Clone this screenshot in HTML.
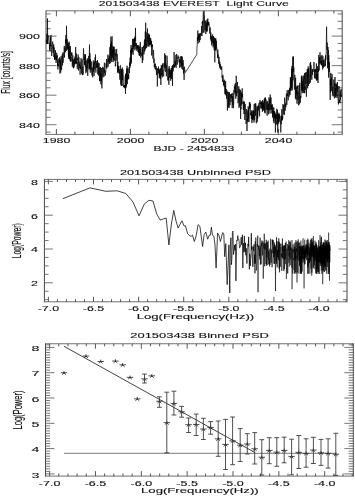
<!DOCTYPE html>
<html><head><meta charset="utf-8"><style>
html,body{margin:0;padding:0;background:#fff;}
body{width:355px;height:496px;overflow:hidden;font-family:"Liberation Sans",sans-serif;}
svg{display:block;filter:blur(0.55px);}
</style></head><body>
<svg width="355" height="496" viewBox="0 0 355 496">
<rect width="355" height="496" fill="#fff"/>
<path d="M46.00,10.30V134.90M342.20,10.30V134.90" stroke="#444" stroke-width="1.0" fill="none"/>
<path d="M46.00,10.80H342.20M46.00,134.40H342.20" stroke="#707070" stroke-width="1.0" fill="none"/>
<line x1="56.40" y1="134.40" x2="56.40" y2="128.90" stroke="#444" stroke-width="0.9"/>
<line x1="56.40" y1="10.80" x2="56.40" y2="16.30" stroke="#444" stroke-width="0.9"/>
<line x1="130.40" y1="134.40" x2="130.40" y2="128.90" stroke="#444" stroke-width="0.9"/>
<line x1="130.40" y1="10.80" x2="130.40" y2="16.30" stroke="#444" stroke-width="0.9"/>
<line x1="204.40" y1="134.40" x2="204.40" y2="128.90" stroke="#444" stroke-width="0.9"/>
<line x1="204.40" y1="10.80" x2="204.40" y2="16.30" stroke="#444" stroke-width="0.9"/>
<line x1="278.40" y1="134.40" x2="278.40" y2="128.90" stroke="#444" stroke-width="0.9"/>
<line x1="278.40" y1="10.80" x2="278.40" y2="16.30" stroke="#444" stroke-width="0.9"/>
<line x1="74.90" y1="134.40" x2="74.90" y2="131.60" stroke="#444" stroke-width="0.9"/>
<line x1="74.90" y1="10.80" x2="74.90" y2="13.60" stroke="#444" stroke-width="0.9"/>
<line x1="93.40" y1="134.40" x2="93.40" y2="131.60" stroke="#444" stroke-width="0.9"/>
<line x1="93.40" y1="10.80" x2="93.40" y2="13.60" stroke="#444" stroke-width="0.9"/>
<line x1="111.90" y1="134.40" x2="111.90" y2="131.60" stroke="#444" stroke-width="0.9"/>
<line x1="111.90" y1="10.80" x2="111.90" y2="13.60" stroke="#444" stroke-width="0.9"/>
<line x1="148.90" y1="134.40" x2="148.90" y2="131.60" stroke="#444" stroke-width="0.9"/>
<line x1="148.90" y1="10.80" x2="148.90" y2="13.60" stroke="#444" stroke-width="0.9"/>
<line x1="167.40" y1="134.40" x2="167.40" y2="131.60" stroke="#444" stroke-width="0.9"/>
<line x1="167.40" y1="10.80" x2="167.40" y2="13.60" stroke="#444" stroke-width="0.9"/>
<line x1="185.90" y1="134.40" x2="185.90" y2="131.60" stroke="#444" stroke-width="0.9"/>
<line x1="185.90" y1="10.80" x2="185.90" y2="13.60" stroke="#444" stroke-width="0.9"/>
<line x1="222.90" y1="134.40" x2="222.90" y2="131.60" stroke="#444" stroke-width="0.9"/>
<line x1="222.90" y1="10.80" x2="222.90" y2="13.60" stroke="#444" stroke-width="0.9"/>
<line x1="241.40" y1="134.40" x2="241.40" y2="131.60" stroke="#444" stroke-width="0.9"/>
<line x1="241.40" y1="10.80" x2="241.40" y2="13.60" stroke="#444" stroke-width="0.9"/>
<line x1="259.90" y1="134.40" x2="259.90" y2="131.60" stroke="#444" stroke-width="0.9"/>
<line x1="259.90" y1="10.80" x2="259.90" y2="13.60" stroke="#444" stroke-width="0.9"/>
<line x1="296.90" y1="134.40" x2="296.90" y2="131.60" stroke="#444" stroke-width="0.9"/>
<line x1="296.90" y1="10.80" x2="296.90" y2="13.60" stroke="#444" stroke-width="0.9"/>
<line x1="315.40" y1="134.40" x2="315.40" y2="131.60" stroke="#444" stroke-width="0.9"/>
<line x1="315.40" y1="10.80" x2="315.40" y2="13.60" stroke="#444" stroke-width="0.9"/>
<line x1="333.90" y1="134.40" x2="333.90" y2="131.60" stroke="#444" stroke-width="0.9"/>
<line x1="333.90" y1="10.80" x2="333.90" y2="13.60" stroke="#444" stroke-width="0.9"/>
<line x1="46.00" y1="124.72" x2="56.50" y2="124.72" stroke="#666" stroke-width="0.9"/>
<line x1="342.20" y1="124.72" x2="331.70" y2="124.72" stroke="#666" stroke-width="0.9"/>
<line x1="46.00" y1="95.18" x2="56.50" y2="95.18" stroke="#666" stroke-width="0.9"/>
<line x1="342.20" y1="95.18" x2="331.70" y2="95.18" stroke="#666" stroke-width="0.9"/>
<line x1="46.00" y1="65.64" x2="56.50" y2="65.64" stroke="#666" stroke-width="0.9"/>
<line x1="342.20" y1="65.64" x2="331.70" y2="65.64" stroke="#666" stroke-width="0.9"/>
<line x1="46.00" y1="36.10" x2="56.50" y2="36.10" stroke="#666" stroke-width="0.9"/>
<line x1="342.20" y1="36.10" x2="331.70" y2="36.10" stroke="#666" stroke-width="0.9"/>
<line x1="46.00" y1="132.11" x2="50.60" y2="132.11" stroke="#666" stroke-width="0.9"/>
<line x1="342.20" y1="132.11" x2="337.60" y2="132.11" stroke="#666" stroke-width="0.9"/>
<line x1="46.00" y1="117.34" x2="50.60" y2="117.34" stroke="#666" stroke-width="0.9"/>
<line x1="342.20" y1="117.34" x2="337.60" y2="117.34" stroke="#666" stroke-width="0.9"/>
<line x1="46.00" y1="109.95" x2="50.60" y2="109.95" stroke="#666" stroke-width="0.9"/>
<line x1="342.20" y1="109.95" x2="337.60" y2="109.95" stroke="#666" stroke-width="0.9"/>
<line x1="46.00" y1="102.56" x2="50.60" y2="102.56" stroke="#666" stroke-width="0.9"/>
<line x1="342.20" y1="102.56" x2="337.60" y2="102.56" stroke="#666" stroke-width="0.9"/>
<line x1="46.00" y1="87.80" x2="50.60" y2="87.80" stroke="#666" stroke-width="0.9"/>
<line x1="342.20" y1="87.80" x2="337.60" y2="87.80" stroke="#666" stroke-width="0.9"/>
<line x1="46.00" y1="80.41" x2="50.60" y2="80.41" stroke="#666" stroke-width="0.9"/>
<line x1="342.20" y1="80.41" x2="337.60" y2="80.41" stroke="#666" stroke-width="0.9"/>
<line x1="46.00" y1="73.03" x2="50.60" y2="73.03" stroke="#666" stroke-width="0.9"/>
<line x1="342.20" y1="73.03" x2="337.60" y2="73.03" stroke="#666" stroke-width="0.9"/>
<line x1="46.00" y1="58.26" x2="50.60" y2="58.26" stroke="#666" stroke-width="0.9"/>
<line x1="342.20" y1="58.26" x2="337.60" y2="58.26" stroke="#666" stroke-width="0.9"/>
<line x1="46.00" y1="50.87" x2="50.60" y2="50.87" stroke="#666" stroke-width="0.9"/>
<line x1="342.20" y1="50.87" x2="337.60" y2="50.87" stroke="#666" stroke-width="0.9"/>
<line x1="46.00" y1="43.48" x2="50.60" y2="43.48" stroke="#666" stroke-width="0.9"/>
<line x1="342.20" y1="43.48" x2="337.60" y2="43.48" stroke="#666" stroke-width="0.9"/>
<line x1="46.00" y1="28.71" x2="50.60" y2="28.71" stroke="#666" stroke-width="0.9"/>
<line x1="342.20" y1="28.71" x2="337.60" y2="28.71" stroke="#666" stroke-width="0.9"/>
<line x1="46.00" y1="21.33" x2="50.60" y2="21.33" stroke="#666" stroke-width="0.9"/>
<line x1="342.20" y1="21.33" x2="337.60" y2="21.33" stroke="#666" stroke-width="0.9"/>
<line x1="46.00" y1="13.95" x2="50.60" y2="13.95" stroke="#666" stroke-width="0.9"/>
<line x1="342.20" y1="13.95" x2="337.60" y2="13.95" stroke="#666" stroke-width="0.9"/>
<text transform="translate(39.80,128.02) scale(1.800,1)" font-family="Liberation Sans, sans-serif" font-size="6.9" text-anchor="end" fill="#111" stroke="#111" stroke-width="0.1">840</text>
<text transform="translate(39.80,98.48) scale(1.800,1)" font-family="Liberation Sans, sans-serif" font-size="6.9" text-anchor="end" fill="#111" stroke="#111" stroke-width="0.1">860</text>
<text transform="translate(39.80,68.94) scale(1.800,1)" font-family="Liberation Sans, sans-serif" font-size="6.9" text-anchor="end" fill="#111" stroke="#111" stroke-width="0.1">880</text>
<text transform="translate(39.80,39.40) scale(1.800,1)" font-family="Liberation Sans, sans-serif" font-size="6.9" text-anchor="end" fill="#111" stroke="#111" stroke-width="0.1">900</text>
<text transform="translate(56.60,143.00) scale(1.800,1)" font-family="Liberation Sans, sans-serif" font-size="6.9" text-anchor="middle" fill="#111" stroke="#111" stroke-width="0.1">1980</text>
<text transform="translate(130.60,143.00) scale(1.800,1)" font-family="Liberation Sans, sans-serif" font-size="6.9" text-anchor="middle" fill="#111" stroke="#111" stroke-width="0.1">2000</text>
<text transform="translate(204.60,143.00) scale(1.800,1)" font-family="Liberation Sans, sans-serif" font-size="6.9" text-anchor="middle" fill="#111" stroke="#111" stroke-width="0.1">2020</text>
<text transform="translate(278.60,143.00) scale(1.800,1)" font-family="Liberation Sans, sans-serif" font-size="6.9" text-anchor="middle" fill="#111" stroke="#111" stroke-width="0.1">2040</text>
<text transform="translate(193.80,151.30) scale(1.756,1)" font-family="Liberation Sans, sans-serif" font-size="6.9" text-anchor="middle" fill="#111" stroke="#111" stroke-width="0.1">BJD - 2454833</text>
<text transform="translate(10.30,72.40) scale(1.950,1) rotate(-90)" font-family="Liberation Sans, sans-serif" font-size="6.61" text-anchor="middle" fill="#111" stroke="#111" stroke-width="0.1">Flux [counts/s]</text>
<text transform="translate(193.75,6.40) scale(1.552,1)" font-family="Liberation Sans, sans-serif" font-size="7.85" text-anchor="middle" fill="#111" stroke="#111" stroke-width="0.1">201503438 EVEREST&#160; Light Curve</text>
<polyline points="46.30,39.63 46.50,43.46 46.70,41.99 46.90,33.82 47.10,34.95 47.30,44.03 47.50,18.50 47.70,43.48 47.90,43.23 48.10,38.23 48.30,35.79 48.50,35.54 48.70,35.57 48.90,39.03 49.10,40.45 49.30,41.73 49.50,49.67 49.70,46.78 49.90,44.35 50.10,51.48 50.30,37.87 50.50,37.08 50.70,46.51 50.90,35.09 51.10,35.05 51.30,46.08 51.50,45.45 51.70,56.02 51.90,49.95 52.10,48.03 52.30,48.19 52.50,44.45 52.70,41.57 52.90,45.31 53.10,52.90 53.30,46.47 53.50,49.29 53.70,44.38 53.90,57.02 54.10,47.35 54.30,49.48 54.50,59.45 54.70,54.17 54.90,59.87 55.10,57.20 55.30,59.20 55.50,50.31 55.70,57.32 55.90,57.39 56.10,62.90 56.30,56.31 56.50,60.14 56.70,52.80 56.90,58.02 57.10,57.49 57.30,55.27 57.50,66.05 57.70,59.65 57.90,69.48 58.10,63.77 58.30,64.40 58.50,65.32 58.70,66.33 58.90,58.46 59.10,63.41 59.30,60.15 59.50,62.86 59.70,57.36 59.90,73.57 60.10,59.26 60.30,68.46 60.50,60.82 60.70,72.67 60.90,67.35 61.10,56.12 61.30,69.11 61.50,69.93 61.70,68.16 61.90,61.65 62.10,54.27 62.30,54.39 62.50,65.28 62.70,58.80 62.90,52.37 63.10,62.79 63.30,58.38 63.50,56.65 63.70,52.97 63.90,52.83 64.10,49.57 64.30,45.95 64.50,57.58 64.70,50.94 64.90,51.37 65.10,47.55 65.30,52.29 65.50,39.32 65.70,43.31 65.90,35.27 66.10,35.05 66.30,50.97 66.50,25.80 66.70,37.77 66.90,41.05 67.10,49.82 67.30,39.39 67.50,45.76 67.70,48.77 67.90,43.15 68.10,47.57 68.30,53.36 68.50,56.98 68.70,42.90 68.90,59.06 69.10,41.64 69.30,57.12 69.50,59.05 69.70,46.62 69.90,52.69 70.10,60.78 70.30,46.14 70.50,58.16 70.70,61.63 70.90,57.02 71.10,61.29 71.30,52.85 71.50,52.56 71.70,55.65 71.90,52.62 72.10,55.75 72.30,66.51 72.50,60.14 72.70,56.24 72.90,55.40 73.10,67.38 73.30,59.04 73.50,68.24 73.70,60.84 73.90,61.23 74.10,67.48 74.30,64.77 74.50,61.44 74.70,58.26 74.90,64.45 75.10,56.48 75.30,63.51 75.50,49.74 75.70,47.00 75.90,56.48 76.10,63.97 76.30,53.53 76.50,63.26 76.70,61.87 76.90,63.31 77.10,62.53 77.30,69.14 77.50,58.24 77.70,59.80 77.90,56.75 78.10,54.46 78.30,57.72 78.50,70.55 78.70,69.61 78.90,56.95 79.10,66.09 79.30,64.12 79.50,66.57 79.70,68.12 79.90,61.68 80.10,74.70 80.30,65.28 80.50,68.66 80.70,69.00 80.90,60.34 81.10,58.15 81.30,65.21 81.50,72.33 81.70,73.54 81.90,71.72 82.10,59.28 82.30,75.12 82.50,72.75 82.70,74.16 82.90,66.75 83.10,74.70 83.30,56.42 83.50,48.40 83.70,55.27 83.90,59.71 84.10,59.29 84.30,57.74 84.50,64.99 84.70,54.15 84.90,64.71 85.10,56.39 85.30,66.84 85.50,54.35 85.70,60.43 85.90,73.15 86.10,65.70 86.30,71.47 86.50,68.85 86.70,68.20 86.90,60.45 87.10,68.05 87.30,58.39 87.50,72.78 87.70,75.86 87.90,74.15 88.10,59.27 88.30,63.30 88.50,61.64 88.70,55.92 88.90,66.19 89.10,69.40 89.30,56.50 89.50,44.60 89.70,68.69 89.90,53.32 90.10,69.40 90.30,72.66 90.50,59.15 90.70,67.86 90.90,70.01 91.10,70.12 91.30,61.42 91.50,71.79 91.70,71.65 91.90,75.41 92.10,75.43 92.30,67.38 92.50,74.74 92.70,77.29 92.90,77.35 93.10,63.55 93.30,60.45 93.50,71.59 93.70,62.80 93.90,68.98 94.10,75.98 94.30,64.55 94.50,61.67 94.70,65.46 94.90,69.30 95.10,57.40 95.30,62.92 95.50,54.50 95.70,68.71 95.90,72.73 96.10,63.34 96.30,63.63 96.50,67.65 96.70,61.05 96.90,62.15 97.10,64.33 97.30,67.50 97.50,60.20 97.70,74.26 97.90,71.14 98.10,66.20 98.30,62.60 98.50,75.52 98.70,64.48 98.90,64.54 99.10,64.50 99.30,63.50 99.50,81.02 99.70,67.59 99.90,68.57 100.10,81.17 100.30,76.66 100.50,67.10 100.70,73.43 100.90,84.30 101.10,73.19 101.30,81.35 101.50,68.08 101.70,82.11 101.90,88.40 102.10,82.58 102.30,78.83 102.50,72.57 102.70,66.81 102.90,74.16 103.10,77.32 103.30,67.68 103.50,68.11 103.70,71.77 103.90,74.62 104.10,76.50 104.30,62.60 104.50,62.82 104.70,73.11 104.90,69.99 105.10,70.97 105.30,75.47 105.50,74.08 105.70,72.00 105.90,70.46 106.10,63.33 106.30,67.33 106.50,59.09 106.70,68.67 106.90,68.27 107.10,67.30 107.30,62.45 107.50,61.10 107.70,61.49 107.90,54.59 108.10,66.92 108.30,61.33 108.50,58.04 108.70,60.03 108.90,62.32 109.10,55.74 109.30,62.93 109.50,63.95 109.70,53.07 109.90,47.09 110.10,58.91 110.30,63.24 110.50,43.89 110.70,55.74 110.90,36.60 111.10,60.53 111.30,42.18 111.50,41.46 111.70,62.08 111.90,42.03 112.10,36.30 112.30,52.84 112.50,50.51 112.70,57.76 112.90,46.22 113.10,62.13 113.30,48.20 113.50,59.98 113.70,46.66 113.90,54.94 114.10,46.85 114.30,52.57 114.50,52.90 114.70,60.69 114.90,56.18 115.10,49.46 115.30,66.38 115.50,64.89 115.70,65.83 115.90,53.25 116.10,56.27 116.30,52.99 116.50,50.90 116.70,48.92 116.90,60.57 117.10,54.06 117.30,56.77 117.50,72.40 117.70,66.18 117.90,61.67 118.10,72.86 118.30,65.75 118.50,71.08 118.70,66.49 118.90,71.27 119.10,73.67 119.30,72.06 119.50,69.50 119.70,77.46 119.90,79.70 120.10,66.12 120.30,65.56 120.50,65.38 120.70,84.50 120.90,84.32 121.10,68.95 121.30,86.07 121.50,69.28 121.70,76.34 121.90,76.51 122.10,85.92 122.30,67.50 122.50,73.80 122.70,80.17 122.90,69.51 123.10,73.46 123.30,78.51 123.50,87.19 123.70,85.12 123.90,86.80 124.10,85.79 124.30,85.07 124.50,88.19 124.70,85.22 124.90,86.62 125.10,78.53 125.30,75.62 125.50,94.00 125.70,73.59 125.90,88.12 126.10,80.63 126.30,74.10 126.50,86.31 126.70,68.39 126.90,75.42 127.10,65.78 127.30,84.20 127.50,75.45 127.70,79.62 127.90,68.78 128.10,78.44 128.30,76.03 128.50,74.45 128.70,79.18 128.90,68.78 129.10,67.31 129.30,71.39 129.50,73.06 129.70,62.38 129.90,67.79 130.10,57.57 130.30,63.29 130.50,66.02 130.70,49.82 130.90,61.85 131.10,45.09 131.30,63.46 131.50,51.23 131.70,48.19 131.90,53.36 132.10,48.06 132.30,52.35 132.50,38.91 132.70,48.50 132.90,48.27 133.10,54.85 133.30,39.07 133.50,46.12 133.70,48.84 133.90,47.00 134.10,38.37 134.30,46.54 134.50,39.26 134.70,37.97 134.90,50.35 135.10,36.38 135.30,40.84 135.50,27.90 135.70,46.07 135.90,43.54 136.10,49.04 136.30,43.17 136.50,46.63 136.70,50.64 136.90,48.76 137.10,48.73 137.30,45.41 137.50,48.06 137.70,45.54 137.90,51.76 138.10,45.55 138.30,47.28 138.50,52.95 138.70,48.37 138.90,45.26 139.10,55.26 139.30,46.78 139.50,56.03 139.70,55.11 139.90,49.01 140.10,54.23 140.30,42.13 140.50,48.92 140.70,57.65 140.90,52.92 141.10,52.82 141.30,55.10 141.50,55.66 141.70,54.19 141.90,51.36 142.10,47.02 142.30,63.00 142.50,48.54 142.70,50.34 142.90,60.28 143.10,47.12 143.30,48.03 143.50,45.75 143.70,48.72 143.90,54.42 144.10,52.69 144.30,42.51 144.50,39.52 144.70,51.43 144.90,42.64 145.10,46.22 145.30,31.53 145.50,49.45 145.70,22.70 145.90,39.57 146.10,32.39 146.30,38.00 146.50,47.94 146.70,47.95 146.90,39.68 147.10,46.60 147.30,39.58 147.50,28.50 147.70,41.76 147.90,34.64 148.10,37.31 148.30,45.07 148.50,46.20 148.70,33.51 148.90,45.35 149.10,46.62 149.30,40.79 149.50,34.75 149.70,44.82 149.90,37.76 150.10,44.45 150.30,40.05 150.50,44.62 150.70,38.11 150.90,42.03 151.10,44.10 151.30,47.21 151.50,40.80 151.70,55.53 151.90,44.75 152.10,46.27 152.30,46.59 152.50,44.44 152.70,51.78 152.90,58.81 153.10,58.51 153.30,50.17 153.50,49.94 153.70,54.03 153.90,62.80 154.10,58.63 154.30,67.19 154.50,63.68 154.70,64.31 154.90,68.02 155.10,68.94 155.30,63.66 155.50,63.66 155.70,67.80 155.90,69.89 156.10,66.16 156.30,71.50 156.50,75.06 156.70,68.34 156.90,69.00 157.10,70.15 157.30,86.50 157.50,82.90 157.70,68.25 157.90,70.22 158.10,69.53 158.30,73.59 158.50,66.57 158.70,72.76 158.90,68.77 159.10,70.49 159.30,78.09 159.50,69.67 159.70,76.01 159.90,73.00 160.10,72.93 160.30,78.89 160.50,68.33 160.70,80.63 160.90,85.00 161.10,75.98 161.30,64.92 161.50,74.87 161.70,73.31 161.90,75.61 162.10,66.14 162.30,77.38 162.50,76.11 162.70,64.18 162.90,67.17 163.10,62.99 163.30,74.45 163.50,75.43 163.70,76.39 163.90,70.18 164.10,70.62 164.30,70.41 164.50,67.88 164.70,53.30 164.90,68.32 165.10,62.53 165.30,66.57 165.50,55.05 165.70,71.98 165.90,71.52 166.10,64.70 166.30,76.22 166.50,73.95 166.70,62.40 166.90,55.70 167.10,56.20 167.30,59.62 167.50,64.49 167.70,69.35 167.90,80.46 168.10,68.75 168.30,80.22 168.50,76.60 168.70,79.09 168.90,84.70 169.10,66.15 169.30,77.51 169.50,69.64 169.70,68.38 169.90,77.89 170.10,76.49 170.30,69.97 170.50,70.96 170.70,80.67 170.90,71.01 171.10,77.25 171.30,68.61 171.50,78.90 171.70,68.03 171.90,74.15 172.10,65.99 172.30,72.78 172.50,86.00 172.70,65.01 172.90,66.67 173.10,71.29 173.30,68.83 173.50,64.12 173.70,67.64 173.90,64.14 174.10,52.00 174.30,59.28 174.50,67.55 174.70,65.16 174.90,66.65 175.10,60.70 175.30,65.82 175.50,65.16 175.70,60.39 175.90,54.90 176.10,67.80 176.30,63.90 176.50,56.32 176.70,54.00 176.90,56.87 177.10,59.54 177.30,64.58 177.50,59.31 177.70,57.44 177.90,57.75 178.10,55.47 178.30,57.49 178.50,58.52 178.70,57.79 178.90,56.86 179.10,62.27 179.30,59.25 179.50,65.66 179.70,67.78 179.90,59.39 180.10,62.96 180.30,61.93 180.50,56.39 180.70,57.02 180.90,67.10 181.10,61.75 181.30,66.40 181.50,56.21 181.70,63.96 181.90,68.42 182.10,69.04 182.30,56.65 182.50,64.93 182.70,63.06 182.90,69.90 183.10,59.85 183.30,63.75 183.50,73.50 183.70,68.79 183.90,69.39 184.10,79.90 184.30,68.76 184.50,66.68 184.70,70.85 184.90,70.21 185.10,71.22 185.30,72.60 196.80,54.50 197.00,45.65 197.20,45.55 197.40,37.25 197.60,40.82 197.80,30.50 198.00,39.69 198.20,43.47 198.40,39.18 198.60,33.79 198.80,39.87 199.00,38.68 199.20,34.65 199.40,40.08 199.60,42.23 199.80,33.05 200.00,37.93 200.20,39.96 200.40,35.30 200.60,33.19 200.80,33.56 201.00,34.88 201.20,35.96 201.40,33.32 201.60,26.01 201.80,35.25 202.00,35.98 202.20,22.00 202.40,23.48 202.60,20.82 202.80,32.32 203.00,32.92 203.20,13.93 203.40,11.40 203.60,16.32 203.80,22.80 204.00,32.56 204.20,15.66 204.40,18.30 204.60,24.88 204.80,25.99 205.00,30.15 205.20,25.06 205.40,20.60 205.60,24.41 205.80,34.03 206.00,30.73 206.20,22.43 206.40,31.50 206.60,24.63 206.80,30.69 207.00,19.66 207.20,31.51 207.40,20.88 207.60,24.85 207.80,18.50 208.00,26.26 208.20,21.86 208.40,22.13 208.60,24.78 208.80,22.27 209.00,25.09 209.20,24.70 209.40,29.95 209.60,29.40 209.80,33.45 210.00,30.09 210.20,27.41 210.40,32.53 210.60,39.48 210.80,32.52 211.00,35.24 211.20,41.18 211.40,36.22 211.60,44.44 211.80,45.55 212.00,36.00 212.20,43.20 212.40,35.78 212.60,34.38 212.80,39.35 213.00,42.15 213.20,47.36 213.40,36.06 213.60,44.86 213.80,41.79 214.00,37.09 214.20,50.14 214.40,46.44 214.60,38.30 214.80,62.30 215.00,38.42 215.20,38.47 215.40,42.03 215.60,50.47 215.80,38.30 216.00,50.07 216.20,46.59 216.40,40.80 216.60,48.07 216.80,47.77 217.00,50.05 217.20,53.05 217.40,53.36 217.60,57.83 217.80,49.65 218.00,57.84 218.20,54.45 218.40,59.54 218.60,61.75 218.80,63.87 219.00,56.86 219.20,59.86 219.40,65.94 219.60,66.77 219.80,61.83 220.00,68.31 220.20,64.04 220.40,64.69 220.60,69.33 220.80,67.42 221.00,68.07 221.20,68.23 221.40,69.68 221.60,66.65 221.80,66.24 222.00,77.35 222.20,76.10 222.40,78.98 222.60,81.87 222.80,74.80 223.00,75.66 223.20,77.09 223.40,78.26 223.60,85.37 223.80,80.85 224.00,80.96 224.20,86.56 224.40,80.47 224.60,79.74 224.80,91.58 225.00,94.16 225.20,85.62 225.40,94.28 225.60,81.17 225.80,90.69 226.00,95.47 226.20,89.00 226.40,91.98 226.60,98.46 226.80,98.80 227.00,90.53 227.20,102.31 227.40,110.60 227.60,107.49 227.80,91.95 228.00,92.96 228.20,91.89 228.40,107.50 228.60,93.56 228.80,100.36 229.00,108.07 229.20,107.68 229.40,92.12 229.60,101.11 229.80,103.02 230.00,105.19 230.20,99.57 230.40,99.24 230.60,93.95 230.80,94.24 231.00,102.14 231.20,94.48 231.40,96.27 231.60,98.13 231.80,93.98 232.00,93.33 232.20,108.10 232.40,100.06 232.60,96.22 232.80,104.95 233.00,92.84 233.20,96.49 233.40,108.15 233.60,106.03 233.80,100.40 234.00,89.81 234.20,92.78 234.40,86.65 234.60,89.04 234.80,84.59 235.00,85.49 235.20,94.58 235.40,83.05 235.60,83.26 235.80,98.72 236.00,85.47 236.20,75.80 236.40,79.86 236.60,96.20 236.80,93.75 237.00,91.12 237.20,92.94 237.40,81.93 237.60,85.73 237.80,93.84 238.00,103.12 238.20,101.33 238.40,98.54 238.60,96.90 238.80,86.36 239.00,107.84 239.20,88.90 239.40,90.09 239.60,103.54 239.80,106.37 240.00,105.67 240.20,97.13 240.40,89.88 240.60,118.90 240.80,106.65 241.00,109.18 241.20,91.77 241.40,105.50 241.60,95.35 241.80,93.52 242.00,97.22 242.20,88.30 242.40,97.10 242.60,94.04 242.80,103.89 243.00,101.44 243.20,108.54 243.40,109.99 243.60,101.79 243.80,102.25 244.00,114.02 244.20,107.85 244.40,101.72 244.60,101.60 244.80,119.94 245.00,113.35 245.20,104.10 245.40,113.61 245.60,114.01 245.80,113.23 246.00,123.59 246.20,124.01 246.40,109.08 246.60,110.17 246.80,115.12 247.00,131.00 247.20,118.88 247.40,120.78 247.60,117.73 247.80,110.53 248.00,122.18 248.20,106.31 248.40,118.95 248.60,108.25 248.80,112.88 249.00,121.98 249.20,112.62 249.40,102.35 249.60,108.85 249.80,102.30 250.00,102.67 250.20,107.41 250.40,103.98 250.60,114.64 250.80,112.64 251.00,115.77 251.20,112.99 251.40,119.03 251.60,110.39 251.80,122.57 252.00,123.06 252.20,114.99 252.40,114.24 252.60,120.20 252.80,110.91 253.00,119.32 253.20,110.34 253.40,118.06 253.60,110.71 253.80,115.85 254.00,122.56 254.20,103.98 254.40,120.21 254.60,114.32 254.80,110.60 255.00,109.81 255.20,103.25 255.40,107.41 255.60,115.78 255.80,103.49 256.00,116.70 256.20,123.13 256.40,123.29 256.60,121.10 256.80,119.19 257.00,106.36 257.20,122.08 257.40,106.60 257.60,118.61 257.80,118.03 258.00,112.76 258.20,110.77 258.40,104.90 258.60,110.32 258.80,106.09 259.00,102.98 259.20,102.83 259.40,114.44 259.60,116.26 259.80,102.45 260.00,100.07 260.20,104.07 260.40,101.71 260.60,102.38 260.80,108.42 261.00,105.59 261.20,105.37 261.40,101.43 261.60,108.58 261.80,102.06 262.00,103.55 262.20,104.33 262.40,111.75 262.60,100.08 262.80,108.20 263.00,101.38 263.20,110.76 263.40,102.88 263.60,104.58 263.80,109.89 264.00,106.88 264.20,98.90 264.40,99.52 264.60,112.54 264.80,97.84 265.00,102.21 265.20,113.29 265.40,97.48 265.60,100.01 265.80,101.37 266.00,99.50 266.20,107.02 266.40,109.78 266.60,105.12 266.80,101.55 267.00,115.66 267.20,115.61 267.40,110.32 267.60,101.22 267.80,108.91 268.00,110.23 268.20,105.52 268.40,114.27 268.60,103.63 268.80,105.93 269.00,97.27 269.20,106.42 269.40,110.27 269.60,109.19 269.80,99.33 270.00,113.62 270.20,94.50 270.40,102.37 270.60,102.27 270.80,109.84 271.00,97.45 271.20,107.24 271.40,109.07 271.60,104.85 271.80,113.37 272.00,105.88 272.20,106.84 272.40,104.35 272.60,117.53 272.80,107.19 273.00,115.10 273.20,110.92 273.40,120.66 273.60,121.44 273.80,107.45 274.00,123.29 274.20,118.06 274.40,111.21 274.60,118.06 274.80,111.67 275.00,118.60 275.20,113.22 275.40,132.50 275.60,114.65 275.80,119.07 276.00,122.43 276.20,124.27 276.40,114.47 276.60,118.36 276.80,108.74 277.00,114.86 277.20,125.19 277.40,110.06 277.60,123.73 277.80,132.50 278.00,113.92 278.20,122.07 278.40,114.68 278.60,123.77 278.80,112.73 279.00,113.78 279.20,121.81 279.40,118.17 279.60,114.30 279.80,118.84 280.00,115.91 280.20,119.22 280.40,121.91 280.60,123.56 280.80,132.50 281.00,118.96 281.20,124.28 281.40,115.90 281.60,120.08 281.80,109.22 282.00,120.71 282.20,115.64 282.40,119.84 282.60,117.59 282.80,118.31 283.00,104.13 283.20,114.47 283.40,104.90 283.60,105.32 283.80,105.68 284.00,109.83 284.20,109.94 284.40,114.87 284.60,97.67 284.80,100.36 285.00,102.86 285.20,110.76 285.40,105.01 285.60,103.57 285.80,107.15 286.00,104.51 286.20,97.61 286.40,93.64 286.60,99.02 286.80,104.82 287.00,99.58 287.20,90.23 287.40,95.49 287.60,93.81 287.80,96.10 288.00,95.37 288.20,100.24 288.40,90.06 288.60,90.55 288.80,93.16 289.00,96.83 289.20,93.40 289.40,89.10 289.60,93.90 289.80,87.83 290.00,95.08 290.20,81.63 290.40,77.07 290.60,90.76 290.80,78.40 291.00,90.71 291.20,84.47 291.40,81.28 291.60,68.84 291.80,88.10 292.00,65.88 292.20,90.31 292.40,85.91 292.60,68.89 292.80,56.70 293.00,80.40 293.20,69.04 293.40,56.40 293.60,71.62 293.80,67.65 294.00,73.33 294.20,80.82 294.40,89.47 294.60,88.71 294.80,74.83 295.00,83.80 295.20,85.27 295.40,98.35 295.60,77.86 295.80,89.06 296.00,99.56 296.20,88.70 296.40,86.71 296.60,94.50 296.80,89.95 297.00,103.63 297.20,85.54 297.40,88.56 297.60,86.33 297.80,99.88 298.00,91.47 298.20,104.22 298.40,104.28 298.60,105.33 298.80,91.06 299.00,84.97 299.20,92.42 299.40,104.42 299.60,99.57 299.80,82.85 300.00,97.20 300.20,101.88 300.40,102.75 300.60,95.74 300.80,98.24 301.00,96.58 301.20,83.79 301.40,76.59 301.60,90.47 301.80,75.56 302.00,80.31 302.20,93.27 302.40,82.23 302.60,81.04 302.80,91.02 303.00,76.51 303.20,92.98 303.40,91.41 303.60,79.53 303.80,79.11 304.00,75.03 304.20,93.09 304.40,77.17 304.60,72.98 304.80,93.18 305.00,86.41 305.20,88.19 305.40,89.72 305.60,72.59 305.80,73.60 306.00,83.90 306.20,72.10 306.40,96.70 306.60,88.79 306.80,85.92 307.00,84.07 307.20,69.26 307.40,73.27 307.60,88.28 307.80,69.30 308.00,78.08 308.20,66.43 308.40,86.02 308.60,68.36 308.80,73.31 309.00,75.98 309.20,79.43 309.40,83.92 309.60,79.01 309.80,69.89 310.00,63.40 310.20,64.00 310.40,82.60 310.60,62.03 310.80,77.64 311.00,65.32 311.20,70.82 311.40,71.83 311.60,73.31 311.80,79.78 312.00,74.06 312.20,69.12 312.40,74.93 312.60,70.79 312.80,70.05 313.00,69.41 313.20,71.83 313.40,68.32 313.60,67.83 313.80,66.39 314.00,62.00 314.20,68.90 314.40,78.17 314.60,78.16 314.80,69.18 315.00,73.78 315.20,78.51 315.40,68.85 315.60,72.05 315.80,69.92 316.00,73.49 316.20,79.53 316.40,63.54 316.60,80.60 316.80,74.45 317.00,77.64 317.20,74.05 317.40,80.14 317.60,66.17 317.80,76.46 318.00,83.00 318.20,68.76 318.40,71.98 318.60,59.08 318.80,54.93 319.00,70.71 319.20,69.77 319.40,65.40 319.60,57.18 319.80,63.43 320.00,52.29 320.20,63.63 320.40,62.05 320.60,62.89 320.80,59.82 321.00,55.90 321.20,65.05 321.40,60.47 321.60,65.47 321.80,59.17 322.00,54.83 322.20,62.81 322.40,64.41 322.60,69.50 322.80,69.15 323.00,56.39 323.20,67.77 323.40,60.30 323.60,66.97 323.80,61.53 324.00,60.00 324.20,62.70 324.40,63.25 324.60,66.62 324.80,65.22 325.00,66.09 325.20,58.29 325.40,65.90 325.60,55.26 325.80,59.83 326.00,53.31 326.20,53.31 326.40,37.67 326.60,26.70 326.80,44.51 327.00,49.92 327.20,42.52 327.40,59.94 327.60,68.29 327.80,53.64 328.00,47.01 328.20,64.42 328.40,50.29 328.60,77.56 328.80,54.98 329.00,65.18 329.20,71.92 329.40,62.10 329.60,71.05 329.80,72.05 330.00,88.71 330.20,100.00 330.40,79.69 330.60,92.68 330.80,73.04 331.00,85.71 331.20,81.40 331.40,77.46 331.60,91.04 331.80,88.69 332.00,73.94 332.20,77.66 332.40,90.04 332.60,94.59 332.80,86.40 333.00,93.04 333.20,96.32 333.40,91.11 333.60,89.35 333.80,79.50 334.00,83.63 334.20,90.38 334.40,98.34 334.60,83.15 334.80,85.88 335.00,76.98 335.20,94.21 335.40,88.29 335.60,97.53 335.80,83.85 336.00,94.88 336.20,95.42 336.40,90.41 336.60,83.73 336.80,89.28 337.00,98.02 337.20,84.34 337.40,82.07 337.60,91.57 337.80,86.07 338.00,100.40 338.20,101.02 338.40,104.41 338.60,101.98 338.80,97.39 339.00,86.14 339.20,102.17 339.40,100.01 339.60,100.68 339.80,99.65 340.00,103.16 340.20,90.44 340.40,99.80 340.60,96.36 340.80,92.43 341.00,92.52 341.20,88.92 341.40,96.96 341.70,94.66" fill="none" stroke="#000" stroke-width="0.7" stroke-linejoin="round"/>
<path d="M44.40,178.90V302.30M347.00,178.90V302.30" stroke="#444" stroke-width="1.0" fill="none"/>
<path d="M44.40,179.40H347.00M44.40,301.80H347.00" stroke="#707070" stroke-width="1.0" fill="none"/>
<line x1="48.40" y1="301.80" x2="48.40" y2="296.80" stroke="#444" stroke-width="0.9"/>
<line x1="48.40" y1="179.40" x2="48.40" y2="184.40" stroke="#444" stroke-width="0.9"/>
<line x1="93.50" y1="301.80" x2="93.50" y2="296.80" stroke="#444" stroke-width="0.9"/>
<line x1="93.50" y1="179.40" x2="93.50" y2="184.40" stroke="#444" stroke-width="0.9"/>
<line x1="138.60" y1="301.80" x2="138.60" y2="296.80" stroke="#444" stroke-width="0.9"/>
<line x1="138.60" y1="179.40" x2="138.60" y2="184.40" stroke="#444" stroke-width="0.9"/>
<line x1="183.70" y1="301.80" x2="183.70" y2="296.80" stroke="#444" stroke-width="0.9"/>
<line x1="183.70" y1="179.40" x2="183.70" y2="184.40" stroke="#444" stroke-width="0.9"/>
<line x1="228.80" y1="301.80" x2="228.80" y2="296.80" stroke="#444" stroke-width="0.9"/>
<line x1="228.80" y1="179.40" x2="228.80" y2="184.40" stroke="#444" stroke-width="0.9"/>
<line x1="273.90" y1="301.80" x2="273.90" y2="296.80" stroke="#444" stroke-width="0.9"/>
<line x1="273.90" y1="179.40" x2="273.90" y2="184.40" stroke="#444" stroke-width="0.9"/>
<line x1="319.00" y1="301.80" x2="319.00" y2="296.80" stroke="#444" stroke-width="0.9"/>
<line x1="319.00" y1="179.40" x2="319.00" y2="184.40" stroke="#444" stroke-width="0.9"/>
<line x1="57.42" y1="301.80" x2="57.42" y2="299.20" stroke="#444" stroke-width="0.9"/>
<line x1="57.42" y1="179.40" x2="57.42" y2="182.00" stroke="#444" stroke-width="0.9"/>
<line x1="66.44" y1="301.80" x2="66.44" y2="299.20" stroke="#444" stroke-width="0.9"/>
<line x1="66.44" y1="179.40" x2="66.44" y2="182.00" stroke="#444" stroke-width="0.9"/>
<line x1="75.46" y1="301.80" x2="75.46" y2="299.20" stroke="#444" stroke-width="0.9"/>
<line x1="75.46" y1="179.40" x2="75.46" y2="182.00" stroke="#444" stroke-width="0.9"/>
<line x1="84.48" y1="301.80" x2="84.48" y2="299.20" stroke="#444" stroke-width="0.9"/>
<line x1="84.48" y1="179.40" x2="84.48" y2="182.00" stroke="#444" stroke-width="0.9"/>
<line x1="102.52" y1="301.80" x2="102.52" y2="299.20" stroke="#444" stroke-width="0.9"/>
<line x1="102.52" y1="179.40" x2="102.52" y2="182.00" stroke="#444" stroke-width="0.9"/>
<line x1="111.54" y1="301.80" x2="111.54" y2="299.20" stroke="#444" stroke-width="0.9"/>
<line x1="111.54" y1="179.40" x2="111.54" y2="182.00" stroke="#444" stroke-width="0.9"/>
<line x1="120.56" y1="301.80" x2="120.56" y2="299.20" stroke="#444" stroke-width="0.9"/>
<line x1="120.56" y1="179.40" x2="120.56" y2="182.00" stroke="#444" stroke-width="0.9"/>
<line x1="129.58" y1="301.80" x2="129.58" y2="299.20" stroke="#444" stroke-width="0.9"/>
<line x1="129.58" y1="179.40" x2="129.58" y2="182.00" stroke="#444" stroke-width="0.9"/>
<line x1="147.62" y1="301.80" x2="147.62" y2="299.20" stroke="#444" stroke-width="0.9"/>
<line x1="147.62" y1="179.40" x2="147.62" y2="182.00" stroke="#444" stroke-width="0.9"/>
<line x1="156.64" y1="301.80" x2="156.64" y2="299.20" stroke="#444" stroke-width="0.9"/>
<line x1="156.64" y1="179.40" x2="156.64" y2="182.00" stroke="#444" stroke-width="0.9"/>
<line x1="165.66" y1="301.80" x2="165.66" y2="299.20" stroke="#444" stroke-width="0.9"/>
<line x1="165.66" y1="179.40" x2="165.66" y2="182.00" stroke="#444" stroke-width="0.9"/>
<line x1="174.68" y1="301.80" x2="174.68" y2="299.20" stroke="#444" stroke-width="0.9"/>
<line x1="174.68" y1="179.40" x2="174.68" y2="182.00" stroke="#444" stroke-width="0.9"/>
<line x1="192.72" y1="301.80" x2="192.72" y2="299.20" stroke="#444" stroke-width="0.9"/>
<line x1="192.72" y1="179.40" x2="192.72" y2="182.00" stroke="#444" stroke-width="0.9"/>
<line x1="201.74" y1="301.80" x2="201.74" y2="299.20" stroke="#444" stroke-width="0.9"/>
<line x1="201.74" y1="179.40" x2="201.74" y2="182.00" stroke="#444" stroke-width="0.9"/>
<line x1="210.76" y1="301.80" x2="210.76" y2="299.20" stroke="#444" stroke-width="0.9"/>
<line x1="210.76" y1="179.40" x2="210.76" y2="182.00" stroke="#444" stroke-width="0.9"/>
<line x1="219.78" y1="301.80" x2="219.78" y2="299.20" stroke="#444" stroke-width="0.9"/>
<line x1="219.78" y1="179.40" x2="219.78" y2="182.00" stroke="#444" stroke-width="0.9"/>
<line x1="237.82" y1="301.80" x2="237.82" y2="299.20" stroke="#444" stroke-width="0.9"/>
<line x1="237.82" y1="179.40" x2="237.82" y2="182.00" stroke="#444" stroke-width="0.9"/>
<line x1="246.84" y1="301.80" x2="246.84" y2="299.20" stroke="#444" stroke-width="0.9"/>
<line x1="246.84" y1="179.40" x2="246.84" y2="182.00" stroke="#444" stroke-width="0.9"/>
<line x1="255.86" y1="301.80" x2="255.86" y2="299.20" stroke="#444" stroke-width="0.9"/>
<line x1="255.86" y1="179.40" x2="255.86" y2="182.00" stroke="#444" stroke-width="0.9"/>
<line x1="264.88" y1="301.80" x2="264.88" y2="299.20" stroke="#444" stroke-width="0.9"/>
<line x1="264.88" y1="179.40" x2="264.88" y2="182.00" stroke="#444" stroke-width="0.9"/>
<line x1="282.92" y1="301.80" x2="282.92" y2="299.20" stroke="#444" stroke-width="0.9"/>
<line x1="282.92" y1="179.40" x2="282.92" y2="182.00" stroke="#444" stroke-width="0.9"/>
<line x1="291.94" y1="301.80" x2="291.94" y2="299.20" stroke="#444" stroke-width="0.9"/>
<line x1="291.94" y1="179.40" x2="291.94" y2="182.00" stroke="#444" stroke-width="0.9"/>
<line x1="300.96" y1="301.80" x2="300.96" y2="299.20" stroke="#444" stroke-width="0.9"/>
<line x1="300.96" y1="179.40" x2="300.96" y2="182.00" stroke="#444" stroke-width="0.9"/>
<line x1="309.98" y1="301.80" x2="309.98" y2="299.20" stroke="#444" stroke-width="0.9"/>
<line x1="309.98" y1="179.40" x2="309.98" y2="182.00" stroke="#444" stroke-width="0.9"/>
<line x1="328.02" y1="301.80" x2="328.02" y2="299.20" stroke="#444" stroke-width="0.9"/>
<line x1="328.02" y1="179.40" x2="328.02" y2="182.00" stroke="#444" stroke-width="0.9"/>
<line x1="337.04" y1="301.80" x2="337.04" y2="299.20" stroke="#444" stroke-width="0.9"/>
<line x1="337.04" y1="179.40" x2="337.04" y2="182.00" stroke="#444" stroke-width="0.9"/>
<line x1="346.06" y1="301.80" x2="346.06" y2="299.20" stroke="#444" stroke-width="0.9"/>
<line x1="346.06" y1="179.40" x2="346.06" y2="182.00" stroke="#444" stroke-width="0.9"/>
<line x1="44.40" y1="282.80" x2="52.90" y2="282.80" stroke="#666" stroke-width="0.9"/>
<line x1="347.00" y1="282.80" x2="338.50" y2="282.80" stroke="#666" stroke-width="0.9"/>
<line x1="44.40" y1="249.00" x2="52.90" y2="249.00" stroke="#666" stroke-width="0.9"/>
<line x1="347.00" y1="249.00" x2="338.50" y2="249.00" stroke="#666" stroke-width="0.9"/>
<line x1="44.40" y1="215.20" x2="52.90" y2="215.20" stroke="#666" stroke-width="0.9"/>
<line x1="347.00" y1="215.20" x2="338.50" y2="215.20" stroke="#666" stroke-width="0.9"/>
<line x1="44.40" y1="181.40" x2="52.90" y2="181.40" stroke="#666" stroke-width="0.9"/>
<line x1="347.00" y1="181.40" x2="338.50" y2="181.40" stroke="#666" stroke-width="0.9"/>
<line x1="44.40" y1="299.70" x2="48.60" y2="299.70" stroke="#666" stroke-width="0.9"/>
<line x1="347.00" y1="299.70" x2="342.80" y2="299.70" stroke="#666" stroke-width="0.9"/>
<line x1="44.40" y1="291.25" x2="48.60" y2="291.25" stroke="#666" stroke-width="0.9"/>
<line x1="347.00" y1="291.25" x2="342.80" y2="291.25" stroke="#666" stroke-width="0.9"/>
<line x1="44.40" y1="274.35" x2="48.60" y2="274.35" stroke="#666" stroke-width="0.9"/>
<line x1="347.00" y1="274.35" x2="342.80" y2="274.35" stroke="#666" stroke-width="0.9"/>
<line x1="44.40" y1="265.90" x2="48.60" y2="265.90" stroke="#666" stroke-width="0.9"/>
<line x1="347.00" y1="265.90" x2="342.80" y2="265.90" stroke="#666" stroke-width="0.9"/>
<line x1="44.40" y1="257.45" x2="48.60" y2="257.45" stroke="#666" stroke-width="0.9"/>
<line x1="347.00" y1="257.45" x2="342.80" y2="257.45" stroke="#666" stroke-width="0.9"/>
<line x1="44.40" y1="240.55" x2="48.60" y2="240.55" stroke="#666" stroke-width="0.9"/>
<line x1="347.00" y1="240.55" x2="342.80" y2="240.55" stroke="#666" stroke-width="0.9"/>
<line x1="44.40" y1="232.10" x2="48.60" y2="232.10" stroke="#666" stroke-width="0.9"/>
<line x1="347.00" y1="232.10" x2="342.80" y2="232.10" stroke="#666" stroke-width="0.9"/>
<line x1="44.40" y1="223.65" x2="48.60" y2="223.65" stroke="#666" stroke-width="0.9"/>
<line x1="347.00" y1="223.65" x2="342.80" y2="223.65" stroke="#666" stroke-width="0.9"/>
<line x1="44.40" y1="206.75" x2="48.60" y2="206.75" stroke="#666" stroke-width="0.9"/>
<line x1="347.00" y1="206.75" x2="342.80" y2="206.75" stroke="#666" stroke-width="0.9"/>
<line x1="44.40" y1="198.30" x2="48.60" y2="198.30" stroke="#666" stroke-width="0.9"/>
<line x1="347.00" y1="198.30" x2="342.80" y2="198.30" stroke="#666" stroke-width="0.9"/>
<line x1="44.40" y1="189.85" x2="48.60" y2="189.85" stroke="#666" stroke-width="0.9"/>
<line x1="347.00" y1="189.85" x2="342.80" y2="189.85" stroke="#666" stroke-width="0.9"/>
<text transform="translate(37.90,286.20) scale(1.800,1)" font-family="Liberation Sans, sans-serif" font-size="6.9" text-anchor="end" fill="#111" stroke="#111" stroke-width="0.1">2</text>
<text transform="translate(37.90,252.40) scale(1.800,1)" font-family="Liberation Sans, sans-serif" font-size="6.9" text-anchor="end" fill="#111" stroke="#111" stroke-width="0.1">4</text>
<text transform="translate(37.90,218.60) scale(1.800,1)" font-family="Liberation Sans, sans-serif" font-size="6.9" text-anchor="end" fill="#111" stroke="#111" stroke-width="0.1">6</text>
<text transform="translate(37.90,184.80) scale(1.800,1)" font-family="Liberation Sans, sans-serif" font-size="6.9" text-anchor="end" fill="#111" stroke="#111" stroke-width="0.1">8</text>
<text transform="translate(48.40,311.20) scale(1.800,1)" font-family="Liberation Sans, sans-serif" font-size="6.9" text-anchor="middle" fill="#111" stroke="#111" stroke-width="0.1">-7.0</text>
<text transform="translate(93.50,311.20) scale(1.800,1)" font-family="Liberation Sans, sans-serif" font-size="6.9" text-anchor="middle" fill="#111" stroke="#111" stroke-width="0.1">-6.5</text>
<text transform="translate(138.60,311.20) scale(1.800,1)" font-family="Liberation Sans, sans-serif" font-size="6.9" text-anchor="middle" fill="#111" stroke="#111" stroke-width="0.1">-6.0</text>
<text transform="translate(183.70,311.20) scale(1.800,1)" font-family="Liberation Sans, sans-serif" font-size="6.9" text-anchor="middle" fill="#111" stroke="#111" stroke-width="0.1">-5.5</text>
<text transform="translate(228.80,311.20) scale(1.800,1)" font-family="Liberation Sans, sans-serif" font-size="6.9" text-anchor="middle" fill="#111" stroke="#111" stroke-width="0.1">-5.0</text>
<text transform="translate(273.90,311.20) scale(1.800,1)" font-family="Liberation Sans, sans-serif" font-size="6.9" text-anchor="middle" fill="#111" stroke="#111" stroke-width="0.1">-4.5</text>
<text transform="translate(319.00,311.20) scale(1.800,1)" font-family="Liberation Sans, sans-serif" font-size="6.9" text-anchor="middle" fill="#111" stroke="#111" stroke-width="0.1">-4.0</text>
<text transform="translate(195.45,318.90) scale(1.904,1)" font-family="Liberation Sans, sans-serif" font-size="6.9" text-anchor="middle" fill="#111" stroke="#111" stroke-width="0.1">Log(Frequency(Hz))</text>
<text transform="translate(21.30,240.75) scale(1.776,1) rotate(-90)" font-family="Liberation Sans, sans-serif" font-size="6.76" text-anchor="middle" fill="#111" stroke="#111" stroke-width="0.1">Log(Power)</text>
<text transform="translate(195.50,174.60) scale(1.620,1)" font-family="Liberation Sans, sans-serif" font-size="7.85" text-anchor="middle" fill="#111" stroke="#111" stroke-width="0.1">201503438 Unbinned PSD</text>
<polyline points="62.80,198.70 89.95,187.90 105.84,191.30 117.11,190.80 125.85,193.50 132.99,202.00 139.03,215.80 144.26,204.10 148.87,200.30 153.00,201.00 156.73,214.00 160.14,220.00 163.28,219.00 166.18,218.00 168.88,244.90 171.41,224.00 173.79,210.40 176.03,221.00 178.14,228.00 180.15,224.00 182.06,220.80 183.89,225.80 185.40,225.80 187.70,233.90 189.20,235.30 190.00,235.80 191.10,236.40 192.50,235.10 194.30,241.50 196.20,235.80 198.10,224.60 199.90,226.30 202.60,246.50 204.10,234.70 205.80,232.10 207.70,239.20 209.20,235.30 210.30,235.30 211.40,227.20 212.50,235.30 213.90,236.40 215.00,245.00 216.10,268.00 217.60,233.00 219.10,235.80 220.40,241.50 222.70,232.50 223.80,233.60 224.70,256.70 225.80,243.70 227.20,284.70 228.90,244.90 229.78,293.00" fill="none" stroke="#111" stroke-width="0.8" stroke-linejoin="round"/>
<polyline points="229.78,293.00 230.33,246.49 230.87,237.80 231.40,264.72 231.93,257.94 232.45,232.45 232.96,231.00 233.47,254.61 233.97,251.48 234.46,245.09 234.95,250.36 235.43,244.14 235.90,280.90 236.37,257.77 236.83,240.00 237.29,240.66 237.74,235.59 238.19,239.40 238.63,239.02 239.07,241.01 239.51,247.87 239.93,247.57 240.36,246.58 240.78,244.09 241.19,237.23 241.60,244.70 242.01,241.63 242.41,234.80 242.81,267.94 243.20,249.09 243.59,243.37 243.98,252.19 244.36,235.91 244.74,249.50 245.11,251.86 245.48,242.79 245.85,255.19 246.21,248.26 246.58,258.53 246.93,263.50 247.29,252.74 247.64,251.89 247.99,243.90 248.33,246.28 248.67,236.88 249.01,249.45 249.35,269.37 249.68,253.71 250.01,254.95 250.34,265.95 250.67,259.70 250.99,255.71 251.31,233.30 251.63,249.77 251.94,246.24 252.25,256.31 252.56,258.51 252.87,266.81 253.18,246.77 253.48,249.42 253.78,250.93 254.08,244.33 254.37,263.64 254.66,254.82 254.96,273.30" fill="none" stroke="#000" stroke-width="0.7" stroke-linejoin="round"/>
<polyline points="254.96,273.30 255.25,241.26 255.53,263.59 255.82,237.50 256.10,249.56 256.38,270.46 256.66,265.44 256.94,261.06 257.21,244.05 257.48,246.62 257.76,235.70 258.02,292.20 258.29,255.04 258.56,245.72 258.82,249.25 259.08,245.49 259.34,256.11 259.60,248.54 259.86,259.50 260.11,237.65 260.37,264.69 260.62,259.62 260.87,245.87 261.12,264.23 261.37,242.88 261.61,245.99 261.86,240.48 262.10,244.84 262.34,248.04 262.58,255.41 262.82,241.16 263.05,252.97 263.29,278.60 263.52,255.40 263.76,242.76 263.99,248.57 264.22,233.80 264.44,239.12 264.67,266.34 264.90,244.24 265.12,249.71 265.35,243.26 265.57,247.06 265.79,254.35 266.01,264.06 266.23,239.76 266.44,265.80 266.66,254.76 266.87,242.14 267.09,257.61 267.30,242.22 267.51,248.78 267.72,265.00 267.93,264.03 268.14,240.58 268.34,247.67 268.55,259.96 268.75,250.83 268.96,264.03 269.16,259.25 269.36,262.61 269.56,266.50 269.76,248.72 269.96,264.89 270.16,262.89 270.35,259.22 270.55,238.81 270.74,240.06 270.94,246.89 271.13,262.91 271.32,255.88 271.51,249.68 271.70,256.93 271.89,256.97 272.08,267.30 272.26,239.77 272.45,244.51 272.64,239.66 272.82,253.16 273.00,253.20 273.19,240.12 273.37,251.94 273.55,257.39 273.73,246.76 273.91,263.65 274.09,252.65 274.26,242.48 274.44,250.06 274.62,263.75 274.79,244.54 274.97,254.62 275.14,245.51 275.31,258.23 275.49,291.00 275.66,246.88 275.83,248.54 276.00,259.37 276.17,261.30 276.34,253.15 276.50,237.18 276.67,263.89 276.84,251.90 277.00,241.12 277.17,267.36 277.33,250.24 277.50,257.26 277.66,254.39 277.82,250.13 277.98,256.99 278.14,241.85 278.30,251.63 278.46,246.04 278.62,260.13 278.78,238.33 278.94,249.42 279.09,268.69 279.25,241.83 279.41,243.71 279.56,272.30 279.72,251.83 279.87,243.41 280.02,248.63 280.18,247.47 280.33,266.73 280.48,253.32 280.63,253.04 280.78,248.38 280.93,243.68 281.08,249.54 281.23,249.81 281.38,254.61 281.52,257.08 281.67,253.20 281.82,270.88 281.96,254.13 282.11,247.21 282.25,250.73 282.40,238.50 282.54,258.06 282.69,244.76 282.83,250.80 282.97,249.34 283.11,253.99 283.25,259.47 283.39,249.11 283.53,246.26 283.67,251.87 283.81,271.10 283.95,264.48 284.09,248.48 284.23,245.07 284.36,269.12 284.50,246.60 284.64,245.64 284.77,259.71 284.91,246.14" fill="none" stroke="#000" stroke-width="0.58" stroke-linejoin="round"/>
<polyline points="284.91,246.14 285.04,250.89 285.18,247.40 285.31,242.99 285.44,261.98 285.58,264.20 285.71,243.07 285.84,258.58 285.97,251.77 286.11,241.47 286.24,248.39 286.37,279.00 286.50,269.62 286.63,266.54 286.76,255.37 286.88,248.60 287.01,267.23 287.14,273.36 287.27,256.66 287.39,255.07 287.52,244.04 287.65,256.44 287.77,273.39 287.90,263.60 288.02,257.16 288.15,249.24 288.27,248.38 288.40,245.44 288.52,250.96 288.64,240.23 288.76,257.98 288.89,262.72 289.01,251.70 289.13,256.34 289.25,245.48 289.37,266.65 289.49,250.67 289.61,241.85 289.73,252.52 289.85,254.67 289.97,259.87 290.09,240.68 290.21,250.58 290.32,242.37 290.44,243.33 290.56,243.92 290.68,265.15 290.79,261.87 290.91,247.05 291.02,257.02 291.14,258.60 291.25,247.95 291.37,252.13 291.48,256.32 291.60,255.97 291.71,256.96 291.82,267.70 291.94,240.00 292.05,289.20 292.16,260.25 292.27,258.44 292.39,249.13 292.50,252.05 292.61,268.70 292.72,273.53 292.83,253.26 292.94,244.74 293.05,250.02 293.16,249.38 293.27,248.80 293.38,250.77 293.49,252.40 293.60,249.83 293.70,260.03 293.81,257.94 293.92,262.25 294.03,269.91 294.13,243.59 294.24,254.01 294.35,273.55 294.45,255.90 294.56,246.91 294.66,258.28 294.77,258.28 294.87,246.69 294.98,265.15 295.08,273.56 295.19,242.16 295.29,260.69 295.39,250.77 295.50,250.28 295.60,260.64 295.70,271.99 295.80,268.27 295.91,240.10 296.01,254.06 296.11,273.58 296.21,253.03 296.31,248.23 296.41,251.57 296.51,247.36 296.61,241.77 296.71,247.39 296.81,258.84 296.91,255.43 297.01,282.50 297.11,250.82 297.21,249.53 297.31,248.39 297.41,272.58 297.51,246.37 297.60,247.49 297.70,240.83 297.80,255.22 297.90,249.77 297.99,242.95 298.09,257.10 298.19,260.70 298.28,239.34 298.38,246.51 298.47,248.75 298.57,249.97 298.66,250.30 298.76,253.19 298.85,273.61 298.95,252.29 299.04,247.36 299.14,242.54 299.23,259.86 299.32,260.24 299.42,249.24 299.51,266.15 299.60,246.10 299.70,265.15 299.79,252.46 299.88,242.59 299.97,256.96 300.06,260.62 300.16,248.86 300.25,246.04 300.34,249.92 300.43,273.63 300.52,256.05 300.61,273.63 300.70,246.74 300.79,271.27 300.88,240.57 300.97,251.95 301.06,258.72 301.15,246.13 301.24,250.18 301.33,249.08 301.42,273.64 301.51,250.42 301.59,273.64 301.68,261.65 301.77,245.42 301.86,247.17 301.95,253.94 302.03,262.92 302.12,247.18 302.21,271.57 302.29,246.16 302.38,247.74 302.47,258.39 302.55,247.46 302.64,251.51 302.72,246.10 302.81,253.20 302.90,259.23 302.98,241.20 303.07,238.25 303.15,243.50 303.24,259.37 303.32,245.22 303.40,251.92 303.49,254.55 303.57,246.16 303.66,259.06 303.74,262.24 303.82,257.30 303.91,249.98 303.99,248.63 304.07,288.40 304.16,248.37 304.24,246.01 304.32,260.38 304.40,251.05 304.48,264.63 304.57,255.34 304.65,247.89 304.73,239.59 304.81,247.26 304.89,257.44 304.97,249.06 305.05,255.25 305.13,264.02 305.22,245.68 305.30,244.77 305.38,248.56 305.46,257.48 305.54,252.22 305.62,248.16 305.69,253.87 305.77,248.91 305.85,246.63 305.93,254.17 306.01,248.47 306.09,258.78 306.17,249.84 306.25,252.10 306.33,243.92 306.40,258.35 306.48,260.16 306.56,250.45 306.64,253.45 306.71,245.29 306.79,250.02 306.87,254.57 306.95,240.07 307.02,254.36 307.10,250.03 307.18,247.05 307.25,247.99 307.33,244.94 307.41,253.28 307.48,248.59 307.56,273.72 307.63,247.19 307.71,255.94 307.78,238.65 307.86,267.91 307.93,242.30 308.01,239.72 308.08,254.60 308.16,260.32 308.23,258.43 308.31,266.03 308.38,260.44 308.46,259.02 308.53,273.73 308.60,245.69 308.68,253.60 308.75,253.83 308.82,252.31 308.90,242.50 308.97,246.40 309.04,255.03 309.12,252.06 309.19,259.39 309.26,263.14 309.33,259.14 309.41,247.13 309.48,253.57 309.55,263.11 309.62,258.39 309.69,253.14 309.77,249.48 309.84,273.75 309.91,273.75 309.98,269.48 310.05,252.22 310.12,261.12 310.19,243.92 310.26,246.68 310.34,260.15 310.41,239.90 310.48,260.81 310.55,252.31 310.62,245.48 310.69,251.24 310.76,262.38 310.83,263.60 310.90,268.87 310.97,254.41 311.03,247.64 311.10,239.72 311.17,248.65 311.24,251.43 311.31,238.72 311.38,250.94 311.45,245.20 311.52,255.01 311.59,257.06 311.65,250.10 311.72,275.70 311.79,245.60 311.86,249.03 311.93,272.72 311.99,247.50 312.06,238.06 312.13,251.09 312.20,242.11 312.26,253.28 312.33,242.21 312.40,250.95 312.46,253.87 312.53,255.61 312.60,243.43 312.66,257.27 312.73,246.98 312.80,243.97 312.86,250.66 312.93,247.41 313.00,240.35 313.06,268.11 313.13,263.33 313.19,261.49 313.26,248.58 313.32,250.86 313.39,236.00 313.45,267.36 313.52,252.82 313.58,245.44 313.65,249.10 313.71,248.82 313.78,258.99 313.84,254.16 313.91,254.00 313.97,255.83 314.04,247.16 314.10,251.50 314.16,269.01 314.23,250.72 314.29,245.66 314.36,265.22 314.42,252.17 314.48,261.25 314.55,246.02 314.61,249.25 314.67,256.16 314.74,251.58 314.80,245.40 314.86,256.58 314.93,242.64 314.99,240.65 315.05,249.34 315.11,257.18 315.18,254.89 315.24,246.04 315.30,249.47 315.36,260.62 315.42,257.05 315.49,265.34 315.55,273.35 315.61,258.80 315.67,253.60 315.73,254.21 315.79,245.98 315.86,243.92 315.92,243.62 315.98,258.88 316.04,241.83 316.10,250.29 316.16,269.35 316.22,258.29 316.28,252.50 316.34,250.05 316.40,243.89 316.46,250.01 316.52,272.35 316.59,244.65 316.65,273.83 316.71,260.00 316.77,251.42 316.82,274.00 316.88,245.57 316.94,258.96 317.00,255.39 317.06,254.07 317.12,257.91 317.18,271.92 317.24,262.18 317.30,260.54 317.36,247.69 317.42,262.98 317.48,269.07 317.54,261.29 317.59,253.70 317.65,247.80 317.71,257.75 317.77,251.76 317.83,256.18 317.89,262.71 317.95,255.27 318.00,252.83 318.06,271.54 318.12,257.07 318.18,245.60 318.23,261.29 318.29,273.72 318.35,265.79 318.41,259.67 318.46,262.00 318.52,240.15 318.58,272.08 318.64,266.64 318.69,250.49 318.75,252.00 318.81,253.42 318.86,257.65 318.92,260.87 318.98,252.58 319.03,260.01 319.09,246.73 319.15,250.90 319.20,256.79 319.26,253.63 319.32,250.22 319.37,247.00 319.43,262.28 319.48,259.78 319.54,266.92 319.60,273.87 319.65,246.27 319.71,248.87 319.76,252.98 319.82,249.19 319.87,247.80 319.93,262.05 319.98,243.86 320.04,235.05 320.09,245.07 320.15,246.05 320.20,262.02 320.26,242.21 320.31,265.97 320.37,253.81 320.42,264.12 320.48,247.86 320.53,254.11 320.59,256.16 320.64,253.76 320.69,245.06 320.75,252.33 320.80,260.04 320.86,256.41 320.91,258.16 320.96,246.24 321.02,247.96 321.07,248.50 321.13,251.30 321.18,237.64 321.23,252.84 321.29,270.52 321.34,253.12 321.39,249.24 321.45,236.67 321.50,266.12 321.55,250.92 321.60,249.75 321.66,258.12 321.71,262.91 321.76,254.79 321.82,273.90 321.87,267.92 321.92,247.56 321.97,244.90 322.03,245.52 322.08,248.42 322.13,265.79 322.18,247.34 322.23,264.65 322.29,250.06 322.34,257.87 322.39,252.19 322.44,262.31 322.49,257.66 322.55,248.16 322.60,252.22 322.65,244.62 322.70,284.20 322.75,252.49 322.80,264.80 322.86,255.35 322.91,244.52 322.96,244.82 323.01,270.36 323.06,251.47 323.11,242.55 323.16,249.68 323.21,246.21 323.26,270.81 323.31,253.67 323.36,242.40 323.42,258.33 323.47,264.41 323.52,252.26 323.57,255.46 323.62,261.14 323.67,257.01 323.72,247.80 323.77,241.90 323.82,272.30 323.87,254.56 323.92,254.87 323.97,251.06 324.02,247.62 324.07,253.55 324.12,245.01 324.17,263.03 324.22,247.07 324.27,243.03 324.31,243.85 324.36,262.54 324.41,248.66 324.46,254.12 324.51,267.29 324.56,249.25 324.61,271.85 324.66,261.50 324.71,259.90 324.76,245.53 324.81,248.79 324.85,248.61 324.90,239.42 324.95,265.78 325.00,252.00 325.05,266.16 325.10,246.24 325.15,266.51 325.19,261.02 325.24,253.81 325.29,249.24 325.34,253.97 325.39,253.40 325.43,246.36 325.48,257.41 325.53,249.61 325.58,257.73 325.63,259.22 325.67,253.32 325.72,256.53 325.77,260.20 325.82,270.90 325.86,240.08 325.91,250.86 325.96,251.64 326.01,269.96 326.05,241.32 326.10,258.95 326.15,252.00 326.20,252.11 326.24,242.97 326.29,254.34 326.34,241.33 326.38,254.00 326.43,244.88 326.48,259.75 326.52,248.13 326.57,247.86 326.62,254.27 326.66,252.35 326.71,273.93 326.76,245.09 326.80,250.37 326.85,254.66 326.90,256.15 326.94,244.61 326.99,261.17 327.03,257.45 327.08,259.25 327.13,255.79 327.17,260.97 327.22,262.60 327.26,243.90 327.31,248.59 327.35,266.97 327.40,240.00 327.45,247.51 327.49,244.10 327.54,250.74 327.58,255.28 327.63,256.61 327.67,253.02 327.72,252.46 327.76,254.63 327.81,247.43 327.85,250.96 327.90,260.46 327.94,257.15 327.99,262.68 328.03,252.94 328.08,242.26 328.12,250.18 328.17,258.85 328.21,257.51 328.26,258.13 328.30,273.98 328.35,244.65 328.39,244.55 328.44,254.20 328.48,259.11 328.53,259.18 328.57,250.91 328.61,232.60 328.66,246.94 328.70,248.03 328.75,245.90 328.79,248.14 328.83,255.24 328.88,262.23 328.92,273.99 328.97,246.46 329.01,252.20 329.05,242.75 329.10,245.92 329.14,241.96 329.19,244.58 329.23,272.17 329.27,262.31 329.32,254.51 329.36,250.53 329.40,244.75 329.45,258.34 329.49,280.80 329.53,245.20 329.58,252.76 329.62,263.07 329.66,247.76 329.71,261.91 329.75,257.74 329.79,257.56 329.83,249.12 329.88,250.83 329.92,248.09 329.96,245.25 330.01,249.97" fill="none" stroke="#000" stroke-width="0.48" stroke-linejoin="round"/>
<path d="M45.50,343.25V476.60M353.30,343.25V476.60" stroke="#444" stroke-width="1.0" fill="none"/>
<path d="M45.50,343.75H353.30M45.50,476.10H353.30" stroke="#707070" stroke-width="1.0" fill="none"/>
<line x1="49.60" y1="476.10" x2="49.60" y2="471.10" stroke="#444" stroke-width="0.9"/>
<line x1="49.60" y1="343.75" x2="49.60" y2="348.75" stroke="#444" stroke-width="0.9"/>
<line x1="95.45" y1="476.10" x2="95.45" y2="471.10" stroke="#444" stroke-width="0.9"/>
<line x1="95.45" y1="343.75" x2="95.45" y2="348.75" stroke="#444" stroke-width="0.9"/>
<line x1="141.30" y1="476.10" x2="141.30" y2="471.10" stroke="#444" stroke-width="0.9"/>
<line x1="141.30" y1="343.75" x2="141.30" y2="348.75" stroke="#444" stroke-width="0.9"/>
<line x1="187.15" y1="476.10" x2="187.15" y2="471.10" stroke="#444" stroke-width="0.9"/>
<line x1="187.15" y1="343.75" x2="187.15" y2="348.75" stroke="#444" stroke-width="0.9"/>
<line x1="233.00" y1="476.10" x2="233.00" y2="471.10" stroke="#444" stroke-width="0.9"/>
<line x1="233.00" y1="343.75" x2="233.00" y2="348.75" stroke="#444" stroke-width="0.9"/>
<line x1="278.85" y1="476.10" x2="278.85" y2="471.10" stroke="#444" stroke-width="0.9"/>
<line x1="278.85" y1="343.75" x2="278.85" y2="348.75" stroke="#444" stroke-width="0.9"/>
<line x1="324.70" y1="476.10" x2="324.70" y2="471.10" stroke="#444" stroke-width="0.9"/>
<line x1="324.70" y1="343.75" x2="324.70" y2="348.75" stroke="#444" stroke-width="0.9"/>
<line x1="58.77" y1="476.10" x2="58.77" y2="473.50" stroke="#444" stroke-width="0.9"/>
<line x1="58.77" y1="343.75" x2="58.77" y2="346.35" stroke="#444" stroke-width="0.9"/>
<line x1="67.94" y1="476.10" x2="67.94" y2="473.50" stroke="#444" stroke-width="0.9"/>
<line x1="67.94" y1="343.75" x2="67.94" y2="346.35" stroke="#444" stroke-width="0.9"/>
<line x1="77.11" y1="476.10" x2="77.11" y2="473.50" stroke="#444" stroke-width="0.9"/>
<line x1="77.11" y1="343.75" x2="77.11" y2="346.35" stroke="#444" stroke-width="0.9"/>
<line x1="86.28" y1="476.10" x2="86.28" y2="473.50" stroke="#444" stroke-width="0.9"/>
<line x1="86.28" y1="343.75" x2="86.28" y2="346.35" stroke="#444" stroke-width="0.9"/>
<line x1="104.62" y1="476.10" x2="104.62" y2="473.50" stroke="#444" stroke-width="0.9"/>
<line x1="104.62" y1="343.75" x2="104.62" y2="346.35" stroke="#444" stroke-width="0.9"/>
<line x1="113.79" y1="476.10" x2="113.79" y2="473.50" stroke="#444" stroke-width="0.9"/>
<line x1="113.79" y1="343.75" x2="113.79" y2="346.35" stroke="#444" stroke-width="0.9"/>
<line x1="122.96" y1="476.10" x2="122.96" y2="473.50" stroke="#444" stroke-width="0.9"/>
<line x1="122.96" y1="343.75" x2="122.96" y2="346.35" stroke="#444" stroke-width="0.9"/>
<line x1="132.13" y1="476.10" x2="132.13" y2="473.50" stroke="#444" stroke-width="0.9"/>
<line x1="132.13" y1="343.75" x2="132.13" y2="346.35" stroke="#444" stroke-width="0.9"/>
<line x1="150.47" y1="476.10" x2="150.47" y2="473.50" stroke="#444" stroke-width="0.9"/>
<line x1="150.47" y1="343.75" x2="150.47" y2="346.35" stroke="#444" stroke-width="0.9"/>
<line x1="159.64" y1="476.10" x2="159.64" y2="473.50" stroke="#444" stroke-width="0.9"/>
<line x1="159.64" y1="343.75" x2="159.64" y2="346.35" stroke="#444" stroke-width="0.9"/>
<line x1="168.81" y1="476.10" x2="168.81" y2="473.50" stroke="#444" stroke-width="0.9"/>
<line x1="168.81" y1="343.75" x2="168.81" y2="346.35" stroke="#444" stroke-width="0.9"/>
<line x1="177.98" y1="476.10" x2="177.98" y2="473.50" stroke="#444" stroke-width="0.9"/>
<line x1="177.98" y1="343.75" x2="177.98" y2="346.35" stroke="#444" stroke-width="0.9"/>
<line x1="196.32" y1="476.10" x2="196.32" y2="473.50" stroke="#444" stroke-width="0.9"/>
<line x1="196.32" y1="343.75" x2="196.32" y2="346.35" stroke="#444" stroke-width="0.9"/>
<line x1="205.49" y1="476.10" x2="205.49" y2="473.50" stroke="#444" stroke-width="0.9"/>
<line x1="205.49" y1="343.75" x2="205.49" y2="346.35" stroke="#444" stroke-width="0.9"/>
<line x1="214.66" y1="476.10" x2="214.66" y2="473.50" stroke="#444" stroke-width="0.9"/>
<line x1="214.66" y1="343.75" x2="214.66" y2="346.35" stroke="#444" stroke-width="0.9"/>
<line x1="223.83" y1="476.10" x2="223.83" y2="473.50" stroke="#444" stroke-width="0.9"/>
<line x1="223.83" y1="343.75" x2="223.83" y2="346.35" stroke="#444" stroke-width="0.9"/>
<line x1="242.17" y1="476.10" x2="242.17" y2="473.50" stroke="#444" stroke-width="0.9"/>
<line x1="242.17" y1="343.75" x2="242.17" y2="346.35" stroke="#444" stroke-width="0.9"/>
<line x1="251.34" y1="476.10" x2="251.34" y2="473.50" stroke="#444" stroke-width="0.9"/>
<line x1="251.34" y1="343.75" x2="251.34" y2="346.35" stroke="#444" stroke-width="0.9"/>
<line x1="260.51" y1="476.10" x2="260.51" y2="473.50" stroke="#444" stroke-width="0.9"/>
<line x1="260.51" y1="343.75" x2="260.51" y2="346.35" stroke="#444" stroke-width="0.9"/>
<line x1="269.68" y1="476.10" x2="269.68" y2="473.50" stroke="#444" stroke-width="0.9"/>
<line x1="269.68" y1="343.75" x2="269.68" y2="346.35" stroke="#444" stroke-width="0.9"/>
<line x1="288.02" y1="476.10" x2="288.02" y2="473.50" stroke="#444" stroke-width="0.9"/>
<line x1="288.02" y1="343.75" x2="288.02" y2="346.35" stroke="#444" stroke-width="0.9"/>
<line x1="297.19" y1="476.10" x2="297.19" y2="473.50" stroke="#444" stroke-width="0.9"/>
<line x1="297.19" y1="343.75" x2="297.19" y2="346.35" stroke="#444" stroke-width="0.9"/>
<line x1="306.36" y1="476.10" x2="306.36" y2="473.50" stroke="#444" stroke-width="0.9"/>
<line x1="306.36" y1="343.75" x2="306.36" y2="346.35" stroke="#444" stroke-width="0.9"/>
<line x1="315.53" y1="476.10" x2="315.53" y2="473.50" stroke="#444" stroke-width="0.9"/>
<line x1="315.53" y1="343.75" x2="315.53" y2="346.35" stroke="#444" stroke-width="0.9"/>
<line x1="333.87" y1="476.10" x2="333.87" y2="473.50" stroke="#444" stroke-width="0.9"/>
<line x1="333.87" y1="343.75" x2="333.87" y2="346.35" stroke="#444" stroke-width="0.9"/>
<line x1="343.04" y1="476.10" x2="343.04" y2="473.50" stroke="#444" stroke-width="0.9"/>
<line x1="343.04" y1="343.75" x2="343.04" y2="346.35" stroke="#444" stroke-width="0.9"/>
<line x1="352.21" y1="476.10" x2="352.21" y2="473.50" stroke="#444" stroke-width="0.9"/>
<line x1="352.21" y1="343.75" x2="352.21" y2="346.35" stroke="#444" stroke-width="0.9"/>
<line x1="45.50" y1="473.90" x2="54.50" y2="473.90" stroke="#666" stroke-width="0.9"/>
<line x1="353.30" y1="473.90" x2="344.30" y2="473.90" stroke="#666" stroke-width="0.9"/>
<line x1="45.50" y1="448.60" x2="54.50" y2="448.60" stroke="#666" stroke-width="0.9"/>
<line x1="353.30" y1="448.60" x2="344.30" y2="448.60" stroke="#666" stroke-width="0.9"/>
<line x1="45.50" y1="423.30" x2="54.50" y2="423.30" stroke="#666" stroke-width="0.9"/>
<line x1="353.30" y1="423.30" x2="344.30" y2="423.30" stroke="#666" stroke-width="0.9"/>
<line x1="45.50" y1="398.00" x2="54.50" y2="398.00" stroke="#666" stroke-width="0.9"/>
<line x1="353.30" y1="398.00" x2="344.30" y2="398.00" stroke="#666" stroke-width="0.9"/>
<line x1="45.50" y1="372.70" x2="54.50" y2="372.70" stroke="#666" stroke-width="0.9"/>
<line x1="353.30" y1="372.70" x2="344.30" y2="372.70" stroke="#666" stroke-width="0.9"/>
<line x1="45.50" y1="347.40" x2="54.50" y2="347.40" stroke="#666" stroke-width="0.9"/>
<line x1="353.30" y1="347.40" x2="344.30" y2="347.40" stroke="#666" stroke-width="0.9"/>
<line x1="45.50" y1="471.37" x2="50.10" y2="471.37" stroke="#666" stroke-width="0.9"/>
<line x1="353.30" y1="471.37" x2="348.70" y2="471.37" stroke="#666" stroke-width="0.9"/>
<line x1="45.50" y1="468.84" x2="50.10" y2="468.84" stroke="#666" stroke-width="0.9"/>
<line x1="353.30" y1="468.84" x2="348.70" y2="468.84" stroke="#666" stroke-width="0.9"/>
<line x1="45.50" y1="466.31" x2="50.10" y2="466.31" stroke="#666" stroke-width="0.9"/>
<line x1="353.30" y1="466.31" x2="348.70" y2="466.31" stroke="#666" stroke-width="0.9"/>
<line x1="45.50" y1="463.78" x2="50.10" y2="463.78" stroke="#666" stroke-width="0.9"/>
<line x1="353.30" y1="463.78" x2="348.70" y2="463.78" stroke="#666" stroke-width="0.9"/>
<line x1="45.50" y1="461.25" x2="50.10" y2="461.25" stroke="#666" stroke-width="0.9"/>
<line x1="353.30" y1="461.25" x2="348.70" y2="461.25" stroke="#666" stroke-width="0.9"/>
<line x1="45.50" y1="458.72" x2="50.10" y2="458.72" stroke="#666" stroke-width="0.9"/>
<line x1="353.30" y1="458.72" x2="348.70" y2="458.72" stroke="#666" stroke-width="0.9"/>
<line x1="45.50" y1="456.19" x2="50.10" y2="456.19" stroke="#666" stroke-width="0.9"/>
<line x1="353.30" y1="456.19" x2="348.70" y2="456.19" stroke="#666" stroke-width="0.9"/>
<line x1="45.50" y1="453.66" x2="50.10" y2="453.66" stroke="#666" stroke-width="0.9"/>
<line x1="353.30" y1="453.66" x2="348.70" y2="453.66" stroke="#666" stroke-width="0.9"/>
<line x1="45.50" y1="451.13" x2="50.10" y2="451.13" stroke="#666" stroke-width="0.9"/>
<line x1="353.30" y1="451.13" x2="348.70" y2="451.13" stroke="#666" stroke-width="0.9"/>
<line x1="45.50" y1="446.07" x2="50.10" y2="446.07" stroke="#666" stroke-width="0.9"/>
<line x1="353.30" y1="446.07" x2="348.70" y2="446.07" stroke="#666" stroke-width="0.9"/>
<line x1="45.50" y1="443.54" x2="50.10" y2="443.54" stroke="#666" stroke-width="0.9"/>
<line x1="353.30" y1="443.54" x2="348.70" y2="443.54" stroke="#666" stroke-width="0.9"/>
<line x1="45.50" y1="441.01" x2="50.10" y2="441.01" stroke="#666" stroke-width="0.9"/>
<line x1="353.30" y1="441.01" x2="348.70" y2="441.01" stroke="#666" stroke-width="0.9"/>
<line x1="45.50" y1="438.48" x2="50.10" y2="438.48" stroke="#666" stroke-width="0.9"/>
<line x1="353.30" y1="438.48" x2="348.70" y2="438.48" stroke="#666" stroke-width="0.9"/>
<line x1="45.50" y1="435.95" x2="50.10" y2="435.95" stroke="#666" stroke-width="0.9"/>
<line x1="353.30" y1="435.95" x2="348.70" y2="435.95" stroke="#666" stroke-width="0.9"/>
<line x1="45.50" y1="433.42" x2="50.10" y2="433.42" stroke="#666" stroke-width="0.9"/>
<line x1="353.30" y1="433.42" x2="348.70" y2="433.42" stroke="#666" stroke-width="0.9"/>
<line x1="45.50" y1="430.89" x2="50.10" y2="430.89" stroke="#666" stroke-width="0.9"/>
<line x1="353.30" y1="430.89" x2="348.70" y2="430.89" stroke="#666" stroke-width="0.9"/>
<line x1="45.50" y1="428.36" x2="50.10" y2="428.36" stroke="#666" stroke-width="0.9"/>
<line x1="353.30" y1="428.36" x2="348.70" y2="428.36" stroke="#666" stroke-width="0.9"/>
<line x1="45.50" y1="425.83" x2="50.10" y2="425.83" stroke="#666" stroke-width="0.9"/>
<line x1="353.30" y1="425.83" x2="348.70" y2="425.83" stroke="#666" stroke-width="0.9"/>
<line x1="45.50" y1="420.77" x2="50.10" y2="420.77" stroke="#666" stroke-width="0.9"/>
<line x1="353.30" y1="420.77" x2="348.70" y2="420.77" stroke="#666" stroke-width="0.9"/>
<line x1="45.50" y1="418.24" x2="50.10" y2="418.24" stroke="#666" stroke-width="0.9"/>
<line x1="353.30" y1="418.24" x2="348.70" y2="418.24" stroke="#666" stroke-width="0.9"/>
<line x1="45.50" y1="415.71" x2="50.10" y2="415.71" stroke="#666" stroke-width="0.9"/>
<line x1="353.30" y1="415.71" x2="348.70" y2="415.71" stroke="#666" stroke-width="0.9"/>
<line x1="45.50" y1="413.18" x2="50.10" y2="413.18" stroke="#666" stroke-width="0.9"/>
<line x1="353.30" y1="413.18" x2="348.70" y2="413.18" stroke="#666" stroke-width="0.9"/>
<line x1="45.50" y1="410.65" x2="50.10" y2="410.65" stroke="#666" stroke-width="0.9"/>
<line x1="353.30" y1="410.65" x2="348.70" y2="410.65" stroke="#666" stroke-width="0.9"/>
<line x1="45.50" y1="408.12" x2="50.10" y2="408.12" stroke="#666" stroke-width="0.9"/>
<line x1="353.30" y1="408.12" x2="348.70" y2="408.12" stroke="#666" stroke-width="0.9"/>
<line x1="45.50" y1="405.59" x2="50.10" y2="405.59" stroke="#666" stroke-width="0.9"/>
<line x1="353.30" y1="405.59" x2="348.70" y2="405.59" stroke="#666" stroke-width="0.9"/>
<line x1="45.50" y1="403.06" x2="50.10" y2="403.06" stroke="#666" stroke-width="0.9"/>
<line x1="353.30" y1="403.06" x2="348.70" y2="403.06" stroke="#666" stroke-width="0.9"/>
<line x1="45.50" y1="400.53" x2="50.10" y2="400.53" stroke="#666" stroke-width="0.9"/>
<line x1="353.30" y1="400.53" x2="348.70" y2="400.53" stroke="#666" stroke-width="0.9"/>
<line x1="45.50" y1="395.47" x2="50.10" y2="395.47" stroke="#666" stroke-width="0.9"/>
<line x1="353.30" y1="395.47" x2="348.70" y2="395.47" stroke="#666" stroke-width="0.9"/>
<line x1="45.50" y1="392.94" x2="50.10" y2="392.94" stroke="#666" stroke-width="0.9"/>
<line x1="353.30" y1="392.94" x2="348.70" y2="392.94" stroke="#666" stroke-width="0.9"/>
<line x1="45.50" y1="390.41" x2="50.10" y2="390.41" stroke="#666" stroke-width="0.9"/>
<line x1="353.30" y1="390.41" x2="348.70" y2="390.41" stroke="#666" stroke-width="0.9"/>
<line x1="45.50" y1="387.88" x2="50.10" y2="387.88" stroke="#666" stroke-width="0.9"/>
<line x1="353.30" y1="387.88" x2="348.70" y2="387.88" stroke="#666" stroke-width="0.9"/>
<line x1="45.50" y1="385.35" x2="50.10" y2="385.35" stroke="#666" stroke-width="0.9"/>
<line x1="353.30" y1="385.35" x2="348.70" y2="385.35" stroke="#666" stroke-width="0.9"/>
<line x1="45.50" y1="382.82" x2="50.10" y2="382.82" stroke="#666" stroke-width="0.9"/>
<line x1="353.30" y1="382.82" x2="348.70" y2="382.82" stroke="#666" stroke-width="0.9"/>
<line x1="45.50" y1="380.29" x2="50.10" y2="380.29" stroke="#666" stroke-width="0.9"/>
<line x1="353.30" y1="380.29" x2="348.70" y2="380.29" stroke="#666" stroke-width="0.9"/>
<line x1="45.50" y1="377.76" x2="50.10" y2="377.76" stroke="#666" stroke-width="0.9"/>
<line x1="353.30" y1="377.76" x2="348.70" y2="377.76" stroke="#666" stroke-width="0.9"/>
<line x1="45.50" y1="375.23" x2="50.10" y2="375.23" stroke="#666" stroke-width="0.9"/>
<line x1="353.30" y1="375.23" x2="348.70" y2="375.23" stroke="#666" stroke-width="0.9"/>
<line x1="45.50" y1="370.17" x2="50.10" y2="370.17" stroke="#666" stroke-width="0.9"/>
<line x1="353.30" y1="370.17" x2="348.70" y2="370.17" stroke="#666" stroke-width="0.9"/>
<line x1="45.50" y1="367.64" x2="50.10" y2="367.64" stroke="#666" stroke-width="0.9"/>
<line x1="353.30" y1="367.64" x2="348.70" y2="367.64" stroke="#666" stroke-width="0.9"/>
<line x1="45.50" y1="365.11" x2="50.10" y2="365.11" stroke="#666" stroke-width="0.9"/>
<line x1="353.30" y1="365.11" x2="348.70" y2="365.11" stroke="#666" stroke-width="0.9"/>
<line x1="45.50" y1="362.58" x2="50.10" y2="362.58" stroke="#666" stroke-width="0.9"/>
<line x1="353.30" y1="362.58" x2="348.70" y2="362.58" stroke="#666" stroke-width="0.9"/>
<line x1="45.50" y1="360.05" x2="50.10" y2="360.05" stroke="#666" stroke-width="0.9"/>
<line x1="353.30" y1="360.05" x2="348.70" y2="360.05" stroke="#666" stroke-width="0.9"/>
<line x1="45.50" y1="357.52" x2="50.10" y2="357.52" stroke="#666" stroke-width="0.9"/>
<line x1="353.30" y1="357.52" x2="348.70" y2="357.52" stroke="#666" stroke-width="0.9"/>
<line x1="45.50" y1="354.99" x2="50.10" y2="354.99" stroke="#666" stroke-width="0.9"/>
<line x1="353.30" y1="354.99" x2="348.70" y2="354.99" stroke="#666" stroke-width="0.9"/>
<line x1="45.50" y1="352.46" x2="50.10" y2="352.46" stroke="#666" stroke-width="0.9"/>
<line x1="353.30" y1="352.46" x2="348.70" y2="352.46" stroke="#666" stroke-width="0.9"/>
<line x1="45.50" y1="349.93" x2="50.10" y2="349.93" stroke="#666" stroke-width="0.9"/>
<line x1="353.30" y1="349.93" x2="348.70" y2="349.93" stroke="#666" stroke-width="0.9"/>
<line x1="45.50" y1="344.87" x2="50.10" y2="344.87" stroke="#666" stroke-width="0.9"/>
<line x1="353.30" y1="344.87" x2="348.70" y2="344.87" stroke="#666" stroke-width="0.9"/>
<text transform="translate(39.40,477.50) scale(1.930,1)" font-family="Liberation Sans, sans-serif" font-size="7.4" text-anchor="end" fill="#111" stroke="#111" stroke-width="0.1">3</text>
<text transform="translate(39.40,452.20) scale(1.930,1)" font-family="Liberation Sans, sans-serif" font-size="7.4" text-anchor="end" fill="#111" stroke="#111" stroke-width="0.1">4</text>
<text transform="translate(39.40,426.90) scale(1.930,1)" font-family="Liberation Sans, sans-serif" font-size="7.4" text-anchor="end" fill="#111" stroke="#111" stroke-width="0.1">5</text>
<text transform="translate(39.40,401.60) scale(1.930,1)" font-family="Liberation Sans, sans-serif" font-size="7.4" text-anchor="end" fill="#111" stroke="#111" stroke-width="0.1">6</text>
<text transform="translate(39.40,376.30) scale(1.930,1)" font-family="Liberation Sans, sans-serif" font-size="7.4" text-anchor="end" fill="#111" stroke="#111" stroke-width="0.1">7</text>
<text transform="translate(39.40,351.00) scale(1.930,1)" font-family="Liberation Sans, sans-serif" font-size="7.4" text-anchor="end" fill="#111" stroke="#111" stroke-width="0.1">8</text>
<text transform="translate(49.60,485.70) scale(1.820,1)" font-family="Liberation Sans, sans-serif" font-size="6.9" text-anchor="middle" fill="#111" stroke="#111" stroke-width="0.1">-7.0</text>
<text transform="translate(95.45,485.70) scale(1.820,1)" font-family="Liberation Sans, sans-serif" font-size="6.9" text-anchor="middle" fill="#111" stroke="#111" stroke-width="0.1">-6.5</text>
<text transform="translate(141.30,485.70) scale(1.820,1)" font-family="Liberation Sans, sans-serif" font-size="6.9" text-anchor="middle" fill="#111" stroke="#111" stroke-width="0.1">-6.0</text>
<text transform="translate(187.15,485.70) scale(1.820,1)" font-family="Liberation Sans, sans-serif" font-size="6.9" text-anchor="middle" fill="#111" stroke="#111" stroke-width="0.1">-5.5</text>
<text transform="translate(233.00,485.70) scale(1.820,1)" font-family="Liberation Sans, sans-serif" font-size="6.9" text-anchor="middle" fill="#111" stroke="#111" stroke-width="0.1">-5.0</text>
<text transform="translate(278.85,485.70) scale(1.820,1)" font-family="Liberation Sans, sans-serif" font-size="6.9" text-anchor="middle" fill="#111" stroke="#111" stroke-width="0.1">-4.5</text>
<text transform="translate(324.70,485.70) scale(1.820,1)" font-family="Liberation Sans, sans-serif" font-size="6.9" text-anchor="middle" fill="#111" stroke="#111" stroke-width="0.1">-4.0</text>
<text transform="translate(199.85,493.30) scale(1.910,1)" font-family="Liberation Sans, sans-serif" font-size="6.9" text-anchor="middle" fill="#111" stroke="#111" stroke-width="0.1">Log(Frequency(Hz))</text>
<text transform="translate(21.95,410.00) scale(1.654,1) rotate(-90)" font-family="Liberation Sans, sans-serif" font-size="7.57" text-anchor="middle" fill="#111" stroke="#111" stroke-width="0.1">Log(Power)</text>
<text transform="translate(199.60,338.30) scale(1.647,1)" font-family="Liberation Sans, sans-serif" font-size="7.85" text-anchor="middle" fill="#111" stroke="#111" stroke-width="0.1">201503438 Binned PSD</text>
<line x1="64.00" y1="346.30" x2="254.80" y2="452.50" stroke="#3a3a3a" stroke-width="0.95"/>
<line x1="64.00" y1="453.30" x2="335.80" y2="453.30" stroke="#6a6a6a" stroke-width="0.9"/>
<path d="M64.00,372.90l0.00,-1.55M64.00,372.90l2.85,-0.20M64.00,372.90l1.65,1.50M64.00,372.90l-1.65,1.50M64.00,372.90l-2.85,-0.20" stroke="#222" stroke-width="0.8" fill="none" stroke-linecap="round"/>
<path d="M86.00,356.20l0.00,-1.55M86.00,356.20l2.85,-0.20M86.00,356.20l1.65,1.50M86.00,356.20l-1.65,1.50M86.00,356.20l-2.85,-0.20" stroke="#222" stroke-width="0.8" fill="none" stroke-linecap="round"/>
<path d="M100.70,361.60l0.00,-1.55M100.70,361.60l2.85,-0.20M100.70,361.60l1.65,1.50M100.70,361.60l-1.65,1.50M100.70,361.60l-2.85,-0.20" stroke="#222" stroke-width="0.8" fill="none" stroke-linecap="round"/>
<path d="M115.40,361.20l0.00,-1.55M115.40,361.20l2.85,-0.20M115.40,361.20l1.65,1.50M115.40,361.20l-1.65,1.50M115.40,361.20l-2.85,-0.20" stroke="#222" stroke-width="0.8" fill="none" stroke-linecap="round"/>
<path d="M122.70,365.00l0.00,-1.55M122.70,365.00l2.85,-0.20M122.70,365.00l1.65,1.50M122.70,365.00l-1.65,1.50M122.70,365.00l-2.85,-0.20" stroke="#222" stroke-width="0.8" fill="none" stroke-linecap="round"/>
<path d="M130.00,377.50l0.00,-1.55M130.00,377.50l2.85,-0.20M130.00,377.50l1.65,1.50M130.00,377.50l-1.65,1.50M130.00,377.50l-2.85,-0.20" stroke="#222" stroke-width="0.8" fill="none" stroke-linecap="round"/>
<path d="M137.30,399.00l0.00,-1.55M137.30,399.00l2.85,-0.20M137.30,399.00l1.65,1.50M137.30,399.00l-1.65,1.50M137.30,399.00l-2.85,-0.20" stroke="#222" stroke-width="0.8" fill="none" stroke-linecap="round"/>
<path d="M144.50,379.00l0.00,-1.55M144.50,379.00l2.85,-0.20M144.50,379.00l1.65,1.50M144.50,379.00l-1.65,1.50M144.50,379.00l-2.85,-0.20" stroke="#222" stroke-width="0.8" fill="none" stroke-linecap="round"/>
<path d="M144.50,374.10V383.00M142.10,374.10H146.90M142.10,383.00H146.90" stroke="#3c3c3c" stroke-width="0.9" fill="none"/>
<path d="M151.80,376.00l0.00,-1.55M151.80,376.00l2.85,-0.20M151.80,376.00l1.65,1.50M151.80,376.00l-1.65,1.50M151.80,376.00l-2.85,-0.20" stroke="#222" stroke-width="0.8" fill="none" stroke-linecap="round"/>
<path d="M159.40,401.40l0.00,-1.55M159.40,401.40l2.85,-0.20M159.40,401.40l1.65,1.50M159.40,401.40l-1.65,1.50M159.40,401.40l-2.85,-0.20" stroke="#222" stroke-width="0.8" fill="none" stroke-linecap="round"/>
<path d="M159.40,396.80V407.30M157.00,396.80H161.80M157.00,407.30H161.80" stroke="#3c3c3c" stroke-width="0.9" fill="none"/>
<path d="M166.80,422.80l0.00,-1.55M166.80,422.80l2.85,-0.20M166.80,422.80l1.65,1.50M166.80,422.80l-1.65,1.50M166.80,422.80l-2.85,-0.20" stroke="#222" stroke-width="0.8" fill="none" stroke-linecap="round"/>
<path d="M166.80,392.20V452.80M164.40,392.20H169.20M164.40,452.80H169.20" stroke="#3c3c3c" stroke-width="0.9" fill="none"/>
<path d="M173.90,403.60l0.00,-1.55M173.90,403.60l2.85,-0.20M173.90,403.60l1.65,1.50M173.90,403.60l-1.65,1.50M173.90,403.60l-2.85,-0.20" stroke="#222" stroke-width="0.8" fill="none" stroke-linecap="round"/>
<path d="M173.90,391.20V415.00M171.50,391.20H176.30M171.50,415.00H176.30" stroke="#3c3c3c" stroke-width="0.9" fill="none"/>
<path d="M181.60,411.90l0.00,-1.55M181.60,411.90l2.85,-0.20M181.60,411.90l1.65,1.50M181.60,411.90l-1.65,1.50M181.60,411.90l-2.85,-0.20" stroke="#222" stroke-width="0.8" fill="none" stroke-linecap="round"/>
<path d="M181.60,406.40V417.20M179.20,406.40H184.00M179.20,417.20H184.00" stroke="#3c3c3c" stroke-width="0.9" fill="none"/>
<path d="M188.60,424.80l0.00,-1.55M188.60,424.80l2.85,-0.20M188.60,424.80l1.65,1.50M188.60,424.80l-1.65,1.50M188.60,424.80l-2.85,-0.20" stroke="#222" stroke-width="0.8" fill="none" stroke-linecap="round"/>
<path d="M188.60,418.00V432.50M186.20,418.00H191.00M186.20,432.50H191.00" stroke="#3c3c3c" stroke-width="0.9" fill="none"/>
<path d="M196.20,424.60l0.00,-1.55M196.20,424.60l2.85,-0.20M196.20,424.60l1.65,1.50M196.20,424.60l-1.65,1.50M196.20,424.60l-2.85,-0.20" stroke="#222" stroke-width="0.8" fill="none" stroke-linecap="round"/>
<path d="M196.20,414.10V435.50M193.80,414.10H198.60M193.80,435.50H198.60" stroke="#3c3c3c" stroke-width="0.9" fill="none"/>
<path d="M203.40,429.20l0.00,-1.55M203.40,429.20l2.85,-0.20M203.40,429.20l1.65,1.50M203.40,429.20l-1.65,1.50M203.40,429.20l-2.85,-0.20" stroke="#222" stroke-width="0.8" fill="none" stroke-linecap="round"/>
<path d="M203.40,418.30V439.50M201.00,418.30H205.80M201.00,439.50H205.80" stroke="#3c3c3c" stroke-width="0.9" fill="none"/>
<path d="M210.60,427.60l0.00,-1.55M210.60,427.60l2.85,-0.20M210.60,427.60l1.65,1.50M210.60,427.60l-1.65,1.50M210.60,427.60l-2.85,-0.20" stroke="#222" stroke-width="0.8" fill="none" stroke-linecap="round"/>
<path d="M210.60,421.60V434.20M208.20,421.60H213.00M208.20,434.20H213.00" stroke="#3c3c3c" stroke-width="0.9" fill="none"/>
<path d="M218.20,439.00l0.00,-1.55M218.20,439.00l2.85,-0.20M218.20,439.00l1.65,1.50M218.20,439.00l-1.65,1.50M218.20,439.00l-2.85,-0.20" stroke="#222" stroke-width="0.8" fill="none" stroke-linecap="round"/>
<path d="M218.20,421.00V456.30M215.80,421.00H220.60M215.80,456.30H220.60" stroke="#3c3c3c" stroke-width="0.9" fill="none"/>
<path d="M225.50,444.60l0.00,-1.55M225.50,444.60l2.85,-0.20M225.50,444.60l1.65,1.50M225.50,444.60l-1.65,1.50M225.50,444.60l-2.85,-0.20" stroke="#222" stroke-width="0.8" fill="none" stroke-linecap="round"/>
<path d="M225.50,419.40V469.50M223.10,419.40H227.90M223.10,469.50H227.90" stroke="#3c3c3c" stroke-width="0.9" fill="none"/>
<path d="M232.60,441.00l0.00,-1.55M232.60,441.00l2.85,-0.20M232.60,441.00l1.65,1.50M232.60,441.00l-1.65,1.50M232.60,441.00l-2.85,-0.20" stroke="#222" stroke-width="0.8" fill="none" stroke-linecap="round"/>
<path d="M232.60,417.00V464.70M230.20,417.00H235.00M230.20,464.70H235.00" stroke="#3c3c3c" stroke-width="0.9" fill="none"/>
<path d="M240.20,445.30l0.00,-1.55M240.20,445.30l2.85,-0.20M240.20,445.30l1.65,1.50M240.20,445.30l-1.65,1.50M240.20,445.30l-2.85,-0.20" stroke="#222" stroke-width="0.8" fill="none" stroke-linecap="round"/>
<path d="M240.20,428.60V461.50M237.80,428.60H242.60M237.80,461.50H242.60" stroke="#3c3c3c" stroke-width="0.9" fill="none"/>
<path d="M247.30,444.10l0.00,-1.55M247.30,444.10l2.85,-0.20M247.30,444.10l1.65,1.50M247.30,444.10l-1.65,1.50M247.30,444.10l-2.85,-0.20" stroke="#222" stroke-width="0.8" fill="none" stroke-linecap="round"/>
<path d="M247.30,433.70V454.00M244.90,433.70H249.70M244.90,454.00H249.70" stroke="#3c3c3c" stroke-width="0.9" fill="none"/>
<path d="M254.70,448.90l0.00,-1.55M254.70,448.90l2.85,-0.20M254.70,448.90l1.65,1.50M254.70,448.90l-1.65,1.50M254.70,448.90l-2.85,-0.20" stroke="#222" stroke-width="0.8" fill="none" stroke-linecap="round"/>
<path d="M254.70,432.60V464.00M252.30,432.60H257.10M252.30,464.00H257.10" stroke="#3c3c3c" stroke-width="0.9" fill="none"/>
<path d="M261.80,457.40l0.00,-1.55M261.80,457.40l2.85,-0.20M261.80,457.40l1.65,1.50M261.80,457.40l-1.65,1.50M261.80,457.40l-2.85,-0.20" stroke="#222" stroke-width="0.8" fill="none" stroke-linecap="round"/>
<path d="M261.80,439.70V475.00M259.40,439.70H264.20M259.40,475.00H264.20" stroke="#3c3c3c" stroke-width="0.9" fill="none"/>
<path d="M269.30,450.60l0.00,-1.55M269.30,450.60l2.85,-0.20M269.30,450.60l1.65,1.50M269.30,450.60l-1.65,1.50M269.30,450.60l-2.85,-0.20" stroke="#222" stroke-width="0.8" fill="none" stroke-linecap="round"/>
<path d="M269.30,437.70V463.70M266.90,437.70H271.70M266.90,463.70H271.70" stroke="#3c3c3c" stroke-width="0.9" fill="none"/>
<path d="M276.80,452.30l0.00,-1.55M276.80,452.30l2.85,-0.20M276.80,452.30l1.65,1.50M276.80,452.30l-1.65,1.50M276.80,452.30l-2.85,-0.20" stroke="#222" stroke-width="0.8" fill="none" stroke-linecap="round"/>
<path d="M276.80,437.70V466.30M274.40,437.70H279.20M274.40,466.30H279.20" stroke="#3c3c3c" stroke-width="0.9" fill="none"/>
<path d="M284.20,450.60l0.00,-1.55M284.20,450.60l2.85,-0.20M284.20,450.60l1.65,1.50M284.20,450.60l-1.65,1.50M284.20,450.60l-2.85,-0.20" stroke="#222" stroke-width="0.8" fill="none" stroke-linecap="round"/>
<path d="M284.20,437.20V462.80M281.80,437.20H286.60M281.80,462.80H286.60" stroke="#3c3c3c" stroke-width="0.9" fill="none"/>
<path d="M291.60,456.60l0.00,-1.55M291.60,456.60l2.85,-0.20M291.60,456.60l1.65,1.50M291.60,456.60l-1.65,1.50M291.60,456.60l-2.85,-0.20" stroke="#222" stroke-width="0.8" fill="none" stroke-linecap="round"/>
<path d="M291.60,439.20V474.80M289.20,439.20H294.00M289.20,474.80H294.00" stroke="#3c3c3c" stroke-width="0.9" fill="none"/>
<path d="M298.80,452.50l0.00,-1.55M298.80,452.50l2.85,-0.20M298.80,452.50l1.65,1.50M298.80,452.50l-1.65,1.50M298.80,452.50l-2.85,-0.20" stroke="#222" stroke-width="0.8" fill="none" stroke-linecap="round"/>
<path d="M298.80,435.50V468.50M296.40,435.50H301.20M296.40,468.50H301.20" stroke="#3c3c3c" stroke-width="0.9" fill="none"/>
<path d="M306.10,453.50l0.00,-1.55M306.10,453.50l2.85,-0.20M306.10,453.50l1.65,1.50M306.10,453.50l-1.65,1.50M306.10,453.50l-2.85,-0.20" stroke="#222" stroke-width="0.8" fill="none" stroke-linecap="round"/>
<path d="M306.10,438.80V467.20M303.70,438.80H308.50M303.70,467.20H308.50" stroke="#3c3c3c" stroke-width="0.9" fill="none"/>
<path d="M313.40,450.20l0.00,-1.55M313.40,450.20l2.85,-0.20M313.40,450.20l1.65,1.50M313.40,450.20l-1.65,1.50M313.40,450.20l-2.85,-0.20" stroke="#222" stroke-width="0.8" fill="none" stroke-linecap="round"/>
<path d="M313.40,437.30V463.50M311.00,437.30H315.80M311.00,463.50H315.80" stroke="#3c3c3c" stroke-width="0.9" fill="none"/>
<path d="M321.00,452.90l0.00,-1.55M321.00,452.90l2.85,-0.20M321.00,452.90l1.65,1.50M321.00,452.90l-1.65,1.50M321.00,452.90l-2.85,-0.20" stroke="#222" stroke-width="0.8" fill="none" stroke-linecap="round"/>
<path d="M321.00,439.40V465.40M318.60,439.40H323.40M318.60,465.40H323.40" stroke="#3c3c3c" stroke-width="0.9" fill="none"/>
<path d="M328.10,453.50l0.00,-1.55M328.10,453.50l2.85,-0.20M328.10,453.50l1.65,1.50M328.10,453.50l-1.65,1.50M328.10,453.50l-2.85,-0.20" stroke="#222" stroke-width="0.8" fill="none" stroke-linecap="round"/>
<path d="M328.10,438.80V468.10M325.70,438.80H330.50M325.70,468.10H330.50" stroke="#3c3c3c" stroke-width="0.9" fill="none"/>
<path d="M335.80,454.40l0.00,-1.55M335.80,454.40l2.85,-0.20M335.80,454.40l1.65,1.50M335.80,454.40l-1.65,1.50M335.80,454.40l-2.85,-0.20" stroke="#222" stroke-width="0.8" fill="none" stroke-linecap="round"/>
<path d="M335.80,433.30V475.40M333.40,433.30H338.20M333.40,475.40H338.20" stroke="#3c3c3c" stroke-width="0.9" fill="none"/>
</svg>
</body></html>
